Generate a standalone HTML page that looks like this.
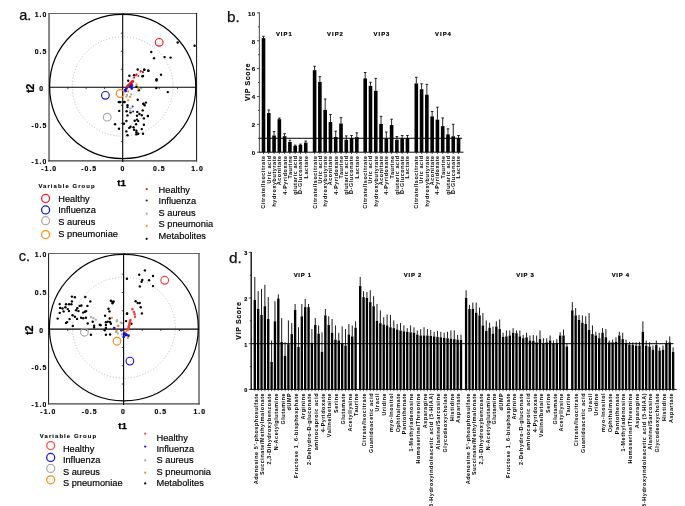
<!DOCTYPE html>
<html><head><meta charset="utf-8"><title>figure</title>
<style>html,body{margin:0;padding:0;background:#fff;}svg{display:block;transform:translateZ(0);will-change:transform;}</style></head>
<body>
<svg width="685" height="506" viewBox="0 0 685 506">
<rect width="685" height="506" fill="#fff"/>
<text x="19.2" y="19.9" font-family="Liberation Sans, sans-serif" font-size="14.6" fill="#111" stroke="#111" stroke-width="0.25">a.</text>
<line x1="49.05" y1="12.95" x2="49.05" y2="161.4" stroke="#6c6c6c" stroke-width="1.6"/>
<line x1="48.25" y1="13.5" x2="197.1" y2="13.5" stroke="#666" stroke-width="1.1"/>
<line x1="196.6" y1="12.95" x2="196.6" y2="161.4" stroke="#111" stroke-width="1.0"/>
<line x1="48.25" y1="160.8" x2="197.1" y2="160.8" stroke="#3a3a3a" stroke-width="1.2"/>
<ellipse cx="122.7" cy="86.5" rx="73.1" ry="72.1" fill="none" stroke="#000" stroke-width="1.2"/>
<ellipse cx="122.7" cy="86.5" rx="50.44" ry="49.75" fill="none" stroke="#adadad" stroke-width="0.85" stroke-dasharray="1 2"/>
<line x1="49.05" y1="87.3" x2="196.6" y2="87.3" stroke="#000" stroke-width="1.1"/>
<line x1="122.7" y1="13.5" x2="122.7" y2="162.0" stroke="#000" stroke-width="1.1"/>
<line x1="67.88" y1="87.3" x2="67.88" y2="89.2" stroke="#000" stroke-width="0.7"/>
<line x1="120.8" y1="33.23" x2="122.7" y2="33.23" stroke="#000" stroke-width="0.7"/>
<line x1="86.15" y1="87.3" x2="86.15" y2="89.2" stroke="#000" stroke-width="0.7"/>
<line x1="120.8" y1="51.25" x2="122.7" y2="51.25" stroke="#000" stroke-width="0.7"/>
<line x1="104.43" y1="87.3" x2="104.43" y2="89.2" stroke="#000" stroke-width="0.7"/>
<line x1="120.8" y1="69.28" x2="122.7" y2="69.28" stroke="#000" stroke-width="0.7"/>
<line x1="140.97" y1="87.3" x2="140.97" y2="89.2" stroke="#000" stroke-width="0.7"/>
<line x1="120.8" y1="105.32" x2="122.7" y2="105.32" stroke="#000" stroke-width="0.7"/>
<line x1="159.25" y1="87.3" x2="159.25" y2="89.2" stroke="#000" stroke-width="0.7"/>
<line x1="120.8" y1="123.35" x2="122.7" y2="123.35" stroke="#000" stroke-width="0.7"/>
<line x1="177.53" y1="87.3" x2="177.53" y2="89.2" stroke="#000" stroke-width="0.7"/>
<line x1="120.8" y1="141.38" x2="122.7" y2="141.38" stroke="#000" stroke-width="0.7"/>
<text x="47.3" y="17.3" text-anchor="end" font-family="Liberation Sans, sans-serif" font-size="6.9" font-weight="bold" letter-spacing="1.0" fill="#000" stroke="#000" stroke-width="0.15">1.0</text>
<text x="47.3" y="54.1" text-anchor="end" font-family="Liberation Sans, sans-serif" font-size="6.9" font-weight="bold" letter-spacing="1.0" fill="#000" stroke="#000" stroke-width="0.15">0.5</text>
<text x="44.0" y="90.9" text-anchor="end" font-family="Liberation Sans, sans-serif" font-size="6.9" font-weight="bold" letter-spacing="1.0" fill="#000" stroke="#000" stroke-width="0.15">0</text>
<text x="47.3" y="127.6" text-anchor="end" font-family="Liberation Sans, sans-serif" font-size="6.9" font-weight="bold" letter-spacing="1.0" fill="#000" stroke="#000" stroke-width="0.15">-0.5</text>
<text x="47.3" y="164.2" text-anchor="end" font-family="Liberation Sans, sans-serif" font-size="6.9" font-weight="bold" letter-spacing="1.0" fill="#000" stroke="#000" stroke-width="0.15">-1.0</text>
<text x="49.2" y="171.2" text-anchor="middle" font-family="Liberation Sans, sans-serif" font-size="6.9" font-weight="bold" letter-spacing="1.0" fill="#000" stroke="#000" stroke-width="0.15">-1.0</text>
<text x="89.2" y="171.2" text-anchor="middle" font-family="Liberation Sans, sans-serif" font-size="6.9" font-weight="bold" letter-spacing="1.0" fill="#000" stroke="#000" stroke-width="0.15">-0.5</text>
<text x="122.9" y="171.2" text-anchor="middle" font-family="Liberation Sans, sans-serif" font-size="6.9" font-weight="bold" letter-spacing="1.0" fill="#000" stroke="#000" stroke-width="0.15">0</text>
<text x="159.3" y="171.2" text-anchor="middle" font-family="Liberation Sans, sans-serif" font-size="6.9" font-weight="bold" letter-spacing="1.0" fill="#000" stroke="#000" stroke-width="0.15">0.5</text>
<text x="197.5" y="171.2" text-anchor="middle" font-family="Liberation Sans, sans-serif" font-size="6.9" font-weight="bold" letter-spacing="1.0" fill="#000" stroke="#000" stroke-width="0.15">1.0</text>
<text transform="translate(34,88.3) rotate(-90)" text-anchor="middle" font-family="Liberation Sans, sans-serif" font-size="10.2" font-weight="bold" fill="#000" stroke="#000" stroke-width="0.25">t2</text>
<text x="121.7" y="186" text-anchor="middle" font-family="Liberation Sans, sans-serif" font-size="9.8" font-weight="bold" fill="#000" stroke="#000" stroke-width="0.25">t1</text>
<circle cx="129.4" cy="75.8" r="1.2" fill="#000"/>
<circle cx="134.1" cy="75.2" r="1.2" fill="#000"/>
<circle cx="137.7" cy="69.5" r="1.2" fill="#000"/>
<circle cx="144.2" cy="69.7" r="1.2" fill="#000"/>
<circle cx="148.4" cy="70.7" r="1.2" fill="#000"/>
<circle cx="143.0" cy="76.0" r="1.2" fill="#000"/>
<circle cx="128.2" cy="80.8" r="1.2" fill="#000"/>
<circle cx="136.5" cy="86.7" r="1.2" fill="#000"/>
<circle cx="138.9" cy="90.2" r="1.2" fill="#000"/>
<circle cx="137.7" cy="99.7" r="1.2" fill="#000"/>
<circle cx="118.7" cy="102.1" r="1.2" fill="#000"/>
<circle cx="120.5" cy="102.1" r="1.2" fill="#000"/>
<circle cx="124.1" cy="102.1" r="1.2" fill="#000"/>
<circle cx="130.6" cy="84.3" r="1.2" fill="#000"/>
<circle cx="128.8" cy="85.5" r="1.2" fill="#000"/>
<circle cx="119.2" cy="102.0" r="1.2" fill="#000"/>
<circle cx="124.6" cy="102.0" r="1.2" fill="#000"/>
<circle cx="127.5" cy="105.3" r="1.2" fill="#000"/>
<circle cx="127.5" cy="107.1" r="1.2" fill="#000"/>
<circle cx="119.2" cy="110.9" r="1.2" fill="#000"/>
<circle cx="126.6" cy="111.3" r="1.2" fill="#000"/>
<circle cx="130.5" cy="112.5" r="1.2" fill="#000"/>
<circle cx="127.5" cy="115.4" r="1.2" fill="#000"/>
<circle cx="126.4" cy="121.0" r="1.2" fill="#000"/>
<circle cx="115.1" cy="124.3" r="1.2" fill="#000"/>
<circle cx="124.0" cy="123.7" r="1.2" fill="#000"/>
<circle cx="119.0" cy="128.7" r="1.2" fill="#000"/>
<circle cx="126.4" cy="131.4" r="1.2" fill="#000"/>
<circle cx="127.5" cy="135.3" r="1.2" fill="#000"/>
<circle cx="129.3" cy="127.9" r="1.2" fill="#000"/>
<circle cx="130.5" cy="126.7" r="1.2" fill="#000"/>
<circle cx="133.5" cy="127.3" r="1.2" fill="#000"/>
<circle cx="134.1" cy="129.7" r="1.2" fill="#000"/>
<circle cx="136.4" cy="130.8" r="1.2" fill="#000"/>
<circle cx="136.4" cy="132.6" r="1.2" fill="#000"/>
<circle cx="136.4" cy="134.4" r="1.2" fill="#000"/>
<circle cx="138.2" cy="133.8" r="1.2" fill="#000"/>
<circle cx="143.0" cy="133.8" r="1.2" fill="#000"/>
<circle cx="141.8" cy="129.1" r="1.2" fill="#000"/>
<circle cx="143.9" cy="124.7" r="1.2" fill="#000"/>
<circle cx="136.1" cy="124.3" r="1.2" fill="#000"/>
<circle cx="134.7" cy="120.8" r="1.2" fill="#000"/>
<circle cx="137.0" cy="119.6" r="1.2" fill="#000"/>
<circle cx="138.2" cy="121.1" r="1.2" fill="#000"/>
<circle cx="143.9" cy="118.4" r="1.2" fill="#000"/>
<circle cx="147.9" cy="116.0" r="1.2" fill="#000"/>
<circle cx="141.8" cy="115.2" r="1.2" fill="#000"/>
<circle cx="139.4" cy="114.0" r="1.2" fill="#000"/>
<circle cx="137.0" cy="115.7" r="1.2" fill="#000"/>
<circle cx="137.3" cy="111.9" r="1.2" fill="#000"/>
<circle cx="142.7" cy="110.4" r="1.2" fill="#000"/>
<circle cx="144.7" cy="105.3" r="1.2" fill="#000"/>
<circle cx="143.2" cy="103.6" r="1.2" fill="#000"/>
<circle cx="145.9" cy="102.6" r="1.2" fill="#000"/>
<circle cx="177.7" cy="42.5" r="1.2" fill="#000"/>
<circle cx="194.6" cy="45.7" r="1.2" fill="#000"/>
<circle cx="151.3" cy="52.0" r="1.2" fill="#000"/>
<circle cx="154.0" cy="58.2" r="1.2" fill="#000"/>
<circle cx="164.6" cy="57.1" r="1.2" fill="#000"/>
<circle cx="170.6" cy="57.6" r="1.2" fill="#000"/>
<circle cx="144.4" cy="69.8" r="1.2" fill="#000"/>
<circle cx="148.3" cy="70.8" r="1.2" fill="#000"/>
<circle cx="161.0" cy="74.8" r="1.2" fill="#000"/>
<circle cx="156.6" cy="79.3" r="1.2" fill="#000"/>
<circle cx="142.4" cy="76.3" r="1.2" fill="#000"/>
<circle cx="156.5" cy="80.5" r="1.2" fill="#000"/>
<circle cx="167.8" cy="92.1" r="1.2" fill="#000"/>
<circle cx="156.3" cy="88.0" r="1.2" fill="#000"/>
<circle cx="147.9" cy="116.1" r="1.2" fill="#000"/>
<circle cx="143.5" cy="104.0" r="1.2" fill="#000"/>
<circle cx="127.0" cy="95.0" r="1.15" fill="#a8a8a8"/>
<circle cx="131.2" cy="94.4" r="1.15" fill="#a8a8a8"/>
<circle cx="126.4" cy="96.8" r="1.15" fill="#a8a8a8"/>
<circle cx="130.5" cy="108.3" r="1.15" fill="#a8a8a8"/>
<circle cx="130.1" cy="110.9" r="1.15" fill="#a8a8a8"/>
<circle cx="136.5" cy="84.3" r="1.15" fill="#ff8a10"/>
<circle cx="138.3" cy="88.5" r="1.15" fill="#ff8a10"/>
<circle cx="128.2" cy="91.4" r="1.15" fill="#ff8a10"/>
<circle cx="130.0" cy="96.8" r="1.15" fill="#ff8a10"/>
<circle cx="128.2" cy="100.3" r="1.15" fill="#ff8a10"/>
<circle cx="127.2" cy="87.0" r="1.4" fill="#f01818"/>
<circle cx="127.7" cy="86.5" r="1.4" fill="#f01818"/>
<circle cx="128.2" cy="86.0" r="1.4" fill="#f01818"/>
<circle cx="128.7" cy="85.4" r="1.4" fill="#f01818"/>
<circle cx="129.2" cy="84.9" r="1.4" fill="#f01818"/>
<circle cx="129.7" cy="84.4" r="1.4" fill="#f01818"/>
<circle cx="130.2" cy="83.9" r="1.4" fill="#f01818"/>
<circle cx="130.7" cy="83.4" r="1.4" fill="#f01818"/>
<circle cx="131.2" cy="82.8" r="1.4" fill="#f01818"/>
<circle cx="131.7" cy="82.3" r="1.4" fill="#f01818"/>
<circle cx="132.2" cy="81.8" r="1.4" fill="#f01818"/>
<circle cx="132.7" cy="81.3" r="1.4" fill="#f01818"/>
<circle cx="134.1" cy="77.8" r="1.0" fill="#f01818"/>
<circle cx="136.5" cy="74.2" r="1.0" fill="#f01818"/>
<circle cx="138.3" cy="76.0" r="1.0" fill="#f01818"/>
<circle cx="140.7" cy="71.3" r="1.0" fill="#f01818"/>
<circle cx="143.0" cy="71.9" r="1.0" fill="#f01818"/>
<circle cx="135.9" cy="75.4" r="1.0" fill="#f01818"/>
<circle cx="140.6" cy="71.6" r="1.0" fill="#f01818"/>
<circle cx="143.0" cy="72.2" r="1.0" fill="#f01818"/>
<circle cx="125.2" cy="90.2" r="1.4" fill="#1414d8"/>
<circle cx="126.4" cy="88.5" r="1.4" fill="#1414d8"/>
<circle cx="130.6" cy="86.7" r="1.4" fill="#1414d8"/>
<circle cx="131.8" cy="85.5" r="1.4" fill="#1414d8"/>
<circle cx="131.8" cy="88.5" r="1.4" fill="#1414d8"/>
<circle cx="125.6" cy="91.1" r="1.4" fill="#1414d8"/>
<circle cx="132.6" cy="106.5" r="1.0" fill="#1414d8"/>
<circle cx="133.1" cy="111.5" r="1.0" fill="#1414d8"/>
<circle cx="159.2" cy="42.3" r="3.85" fill="none" stroke="#f01818" stroke-width="1.15"/>
<circle cx="105.4" cy="95.3" r="3.85" fill="none" stroke="#1414d8" stroke-width="1.15"/>
<circle cx="120.1" cy="93.5" r="3.85" fill="none" stroke="#ff8a10" stroke-width="1.15"/>
<circle cx="107.2" cy="117.2" r="3.85" fill="none" stroke="#a8a8a8" stroke-width="1.15"/>
<text x="38.4" y="188" font-family="Liberation Sans, sans-serif" font-size="5.9" font-weight="bold" letter-spacing="1.1" fill="#000" stroke="#000" stroke-width="0.12">Variable Group</text>
<circle cx="45.6" cy="198.4" r="4.0" fill="none" stroke="#f01818" stroke-width="1.25"/>
<circle cx="45.6" cy="209.9" r="4.0" fill="none" stroke="#1414d8" stroke-width="1.25"/>
<circle cx="45.6" cy="220.7" r="4.0" fill="none" stroke="#a8a8a8" stroke-width="1.25"/>
<circle cx="45.6" cy="234.5" r="4.0" fill="none" stroke="#ff8a10" stroke-width="1.25"/>
<text x="58.3" y="202.4" font-family="Liberation Sans, sans-serif" font-size="9.25" fill="#000" stroke="#000" stroke-width="0.18">Healthy</text>
<text x="58.3" y="213.1" font-family="Liberation Sans, sans-serif" font-size="9.25" fill="#000" stroke="#000" stroke-width="0.18">Influenza</text>
<text x="58.3" y="225.1" font-family="Liberation Sans, sans-serif" font-size="9.25" fill="#000" stroke="#000" stroke-width="0.18">S aureus</text>
<text x="58.3" y="236.6" font-family="Liberation Sans, sans-serif" font-size="9.25" fill="#000" stroke="#000" stroke-width="0.18">S pneumoniae</text>
<circle cx="146.7" cy="189.1" r="1.1" fill="#f01818"/>
<circle cx="146.7" cy="200.5" r="1.1" fill="#1414d8"/>
<circle cx="146.7" cy="213.7" r="1.1" fill="#a8a8a8"/>
<circle cx="146.7" cy="226.0" r="1.1" fill="#ff8a10"/>
<circle cx="146.7" cy="238.8" r="1.1" fill="#000"/>
<text x="158.6" y="193.3" font-family="Liberation Sans, sans-serif" font-size="9.25" fill="#000" stroke="#000" stroke-width="0.18">Healthy</text>
<text x="158.6" y="204.1" font-family="Liberation Sans, sans-serif" font-size="9.25" fill="#000" stroke="#000" stroke-width="0.18">Influenza</text>
<text x="158.6" y="215.7" font-family="Liberation Sans, sans-serif" font-size="9.25" fill="#000" stroke="#000" stroke-width="0.18">S aureus</text>
<text x="158.6" y="227.4" font-family="Liberation Sans, sans-serif" font-size="9.25" fill="#000" stroke="#000" stroke-width="0.18">S pneumonia</text>
<text x="158.6" y="238.5" font-family="Liberation Sans, sans-serif" font-size="9.25" fill="#000" stroke="#000" stroke-width="0.18">Metabolites</text>
<text x="18.8" y="261.3" font-family="Liberation Sans, sans-serif" font-size="14.6" fill="#111" stroke="#111" stroke-width="0.25">c.</text>
<line x1="48.6" y1="252.95" x2="48.6" y2="404.45" stroke="#111" stroke-width="1.0"/>
<line x1="48.1" y1="253.5" x2="199.7" y2="253.5" stroke="#666" stroke-width="1.1"/>
<line x1="199" y1="252.95" x2="199" y2="404.45" stroke="#5a5a5a" stroke-width="1.4"/>
<line x1="48.1" y1="403.8" x2="199.7" y2="403.8" stroke="#444" stroke-width="1.3"/>
<ellipse cx="123.85" cy="327.65" rx="74.45" ry="73.25" fill="none" stroke="#000" stroke-width="1.2"/>
<ellipse cx="123.85" cy="327.65" rx="51.37" ry="50.54" fill="none" stroke="#adadad" stroke-width="0.85" stroke-dasharray="1 2"/>
<line x1="48.6" y1="329.1" x2="199" y2="329.1" stroke="#000" stroke-width="1.1"/>
<line x1="123.6" y1="253.5" x2="123.6" y2="405.0" stroke="#000" stroke-width="1.1"/>
<line x1="67.76" y1="329.1" x2="67.76" y2="331.0" stroke="#000" stroke-width="0.7"/>
<line x1="121.69999999999999" y1="274.16" x2="123.6" y2="274.16" stroke="#000" stroke-width="0.7"/>
<line x1="86.38" y1="329.1" x2="86.38" y2="331.0" stroke="#000" stroke-width="0.7"/>
<line x1="121.69999999999999" y1="292.48" x2="123.6" y2="292.48" stroke="#000" stroke-width="0.7"/>
<line x1="104.99" y1="329.1" x2="104.99" y2="331.0" stroke="#000" stroke-width="0.7"/>
<line x1="121.69999999999999" y1="310.79" x2="123.6" y2="310.79" stroke="#000" stroke-width="0.7"/>
<line x1="142.21" y1="329.1" x2="142.21" y2="331.0" stroke="#000" stroke-width="0.7"/>
<line x1="121.69999999999999" y1="347.41" x2="123.6" y2="347.41" stroke="#000" stroke-width="0.7"/>
<line x1="160.82" y1="329.1" x2="160.82" y2="331.0" stroke="#000" stroke-width="0.7"/>
<line x1="121.69999999999999" y1="365.73" x2="123.6" y2="365.73" stroke="#000" stroke-width="0.7"/>
<line x1="179.44" y1="329.1" x2="179.44" y2="331.0" stroke="#000" stroke-width="0.7"/>
<line x1="121.69999999999999" y1="384.04" x2="123.6" y2="384.04" stroke="#000" stroke-width="0.7"/>
<text x="47.3" y="257.3" text-anchor="end" font-family="Liberation Sans, sans-serif" font-size="6.9" font-weight="bold" letter-spacing="1.0" fill="#000" stroke="#000" stroke-width="0.15">1.0</text>
<text x="47.3" y="294.8" text-anchor="end" font-family="Liberation Sans, sans-serif" font-size="6.9" font-weight="bold" letter-spacing="1.0" fill="#000" stroke="#000" stroke-width="0.15">0.5</text>
<text x="44.0" y="332.8" text-anchor="end" font-family="Liberation Sans, sans-serif" font-size="6.9" font-weight="bold" letter-spacing="1.0" fill="#000" stroke="#000" stroke-width="0.15">0</text>
<text x="47.3" y="369.9" text-anchor="end" font-family="Liberation Sans, sans-serif" font-size="6.9" font-weight="bold" letter-spacing="1.0" fill="#000" stroke="#000" stroke-width="0.15">-0.5</text>
<text x="47.3" y="407.1" text-anchor="end" font-family="Liberation Sans, sans-serif" font-size="6.9" font-weight="bold" letter-spacing="1.0" fill="#000" stroke="#000" stroke-width="0.15">-1.0</text>
<text x="48.3" y="414.2" text-anchor="middle" font-family="Liberation Sans, sans-serif" font-size="6.9" font-weight="bold" letter-spacing="1.0" fill="#000" stroke="#000" stroke-width="0.15">-1.0</text>
<text x="89.6" y="414.2" text-anchor="middle" font-family="Liberation Sans, sans-serif" font-size="6.9" font-weight="bold" letter-spacing="1.0" fill="#000" stroke="#000" stroke-width="0.15">-0.5</text>
<text x="123.5" y="414.2" text-anchor="middle" font-family="Liberation Sans, sans-serif" font-size="6.9" font-weight="bold" letter-spacing="1.0" fill="#000" stroke="#000" stroke-width="0.15">0</text>
<text x="160.8" y="414.2" text-anchor="middle" font-family="Liberation Sans, sans-serif" font-size="6.9" font-weight="bold" letter-spacing="1.0" fill="#000" stroke="#000" stroke-width="0.15">0.5</text>
<text x="199.8" y="414.2" text-anchor="middle" font-family="Liberation Sans, sans-serif" font-size="6.9" font-weight="bold" letter-spacing="1.0" fill="#000" stroke="#000" stroke-width="0.15">1.0</text>
<text transform="translate(32.8,330.1) rotate(-90)" text-anchor="middle" font-family="Liberation Sans, sans-serif" font-size="10.2" font-weight="bold" fill="#000" stroke="#000" stroke-width="0.25">t2</text>
<text x="122.6" y="429.3" text-anchor="middle" font-family="Liberation Sans, sans-serif" font-size="9.8" font-weight="bold" fill="#000" stroke="#000" stroke-width="0.25">t1</text>
<circle cx="71.9" cy="296.6" r="1.2" fill="#000"/>
<circle cx="74.9" cy="297.2" r="1.2" fill="#000"/>
<circle cx="85.3" cy="297.0" r="1.2" fill="#000"/>
<circle cx="90.3" cy="301.4" r="1.2" fill="#000"/>
<circle cx="71.9" cy="301.4" r="1.2" fill="#000"/>
<circle cx="71.4" cy="304.3" r="1.2" fill="#000"/>
<circle cx="69.0" cy="304.3" r="1.2" fill="#000"/>
<circle cx="66.0" cy="304.3" r="1.2" fill="#000"/>
<circle cx="59.7" cy="304.1" r="1.2" fill="#000"/>
<circle cx="60.1" cy="307.9" r="1.2" fill="#000"/>
<circle cx="62.5" cy="308.5" r="1.2" fill="#000"/>
<circle cx="65.4" cy="307.3" r="1.2" fill="#000"/>
<circle cx="67.8" cy="309.1" r="1.2" fill="#000"/>
<circle cx="63.6" cy="311.4" r="1.2" fill="#000"/>
<circle cx="69.0" cy="311.1" r="1.2" fill="#000"/>
<circle cx="59.7" cy="312.9" r="1.2" fill="#000"/>
<circle cx="77.3" cy="308.2" r="1.2" fill="#000"/>
<circle cx="79.7" cy="305.9" r="1.2" fill="#000"/>
<circle cx="81.4" cy="305.5" r="1.2" fill="#000"/>
<circle cx="87.4" cy="305.9" r="1.2" fill="#000"/>
<circle cx="76.1" cy="310.2" r="1.2" fill="#000"/>
<circle cx="78.5" cy="311.1" r="1.2" fill="#000"/>
<circle cx="83.2" cy="312.6" r="1.2" fill="#000"/>
<circle cx="85.0" cy="311.8" r="1.2" fill="#000"/>
<circle cx="86.2" cy="311.1" r="1.2" fill="#000"/>
<circle cx="72.5" cy="315.3" r="1.2" fill="#000"/>
<circle cx="74.9" cy="316.8" r="1.2" fill="#000"/>
<circle cx="77.0" cy="318.9" r="1.2" fill="#000"/>
<circle cx="81.1" cy="317.7" r="1.2" fill="#000"/>
<circle cx="83.2" cy="318.2" r="1.2" fill="#000"/>
<circle cx="85.9" cy="317.7" r="1.2" fill="#000"/>
<circle cx="57.7" cy="318.6" r="1.2" fill="#000"/>
<circle cx="69.6" cy="319.1" r="1.2" fill="#000"/>
<circle cx="66.0" cy="322.9" r="1.2" fill="#000"/>
<circle cx="67.2" cy="322.1" r="1.2" fill="#000"/>
<circle cx="87.7" cy="323.5" r="1.2" fill="#000"/>
<circle cx="92.7" cy="321.8" r="1.2" fill="#000"/>
<circle cx="72.8" cy="325.9" r="1.2" fill="#000"/>
<circle cx="94.1" cy="325.7" r="1.2" fill="#000"/>
<circle cx="94.1" cy="327.4" r="1.2" fill="#000"/>
<circle cx="99.8" cy="324.8" r="1.2" fill="#000"/>
<circle cx="90.9" cy="334.8" r="1.2" fill="#000"/>
<circle cx="110.9" cy="300.7" r="1.2" fill="#000"/>
<circle cx="112.5" cy="301.9" r="1.2" fill="#000"/>
<circle cx="113.6" cy="301.5" r="1.2" fill="#000"/>
<circle cx="112.5" cy="303.3" r="1.2" fill="#000"/>
<circle cx="108.5" cy="308.7" r="1.2" fill="#000"/>
<circle cx="109.5" cy="311.4" r="1.2" fill="#000"/>
<circle cx="105.1" cy="315.7" r="1.2" fill="#000"/>
<circle cx="109.7" cy="318.5" r="1.2" fill="#000"/>
<circle cx="105.9" cy="322.3" r="1.2" fill="#000"/>
<circle cx="107.7" cy="321.8" r="1.2" fill="#000"/>
<circle cx="110.1" cy="322.0" r="1.2" fill="#000"/>
<circle cx="110.9" cy="323.8" r="1.2" fill="#000"/>
<circle cx="105.9" cy="325.0" r="1.2" fill="#000"/>
<circle cx="100.6" cy="325.2" r="1.2" fill="#000"/>
<circle cx="105.9" cy="328.0" r="1.2" fill="#000"/>
<circle cx="104.7" cy="330.3" r="1.2" fill="#000"/>
<circle cx="105.9" cy="334.8" r="1.2" fill="#000"/>
<circle cx="110.1" cy="334.5" r="1.2" fill="#000"/>
<circle cx="127.0" cy="313.7" r="1.2" fill="#000"/>
<circle cx="126.1" cy="321.1" r="1.2" fill="#000"/>
<circle cx="135.6" cy="301.3" r="1.2" fill="#000"/>
<circle cx="137.7" cy="303.0" r="1.2" fill="#000"/>
<circle cx="139.7" cy="303.0" r="1.2" fill="#000"/>
<circle cx="140.7" cy="307.2" r="1.2" fill="#000"/>
<circle cx="141.9" cy="313.4" r="1.2" fill="#000"/>
<circle cx="131.4" cy="323.8" r="1.2" fill="#000"/>
<circle cx="144.9" cy="270.4" r="1.2" fill="#000"/>
<circle cx="139.2" cy="274.8" r="1.2" fill="#000"/>
<circle cx="153.0" cy="276.0" r="1.2" fill="#000"/>
<circle cx="126.9" cy="278.7" r="1.2" fill="#000"/>
<circle cx="142.3" cy="279.9" r="1.2" fill="#000"/>
<circle cx="141.6" cy="281.7" r="1.2" fill="#000"/>
<circle cx="149.1" cy="280.3" r="1.2" fill="#000"/>
<circle cx="139.8" cy="286.4" r="1.2" fill="#000"/>
<circle cx="153.0" cy="286.1" r="1.2" fill="#000"/>
<circle cx="127.1" cy="313.5" r="1.2" fill="#000"/>
<circle cx="90.9" cy="317.0" r="1.15" fill="#a8a8a8"/>
<circle cx="93.3" cy="318.2" r="1.15" fill="#a8a8a8"/>
<circle cx="95.7" cy="319.7" r="1.15" fill="#a8a8a8"/>
<circle cx="116.6" cy="321.4" r="1.15" fill="#a8a8a8"/>
<circle cx="117.0" cy="320.2" r="1.15" fill="#a8a8a8"/>
<circle cx="120.8" cy="322.6" r="1.15" fill="#a8a8a8"/>
<circle cx="121.9" cy="323.2" r="1.15" fill="#a8a8a8"/>
<circle cx="117.8" cy="325.6" r="1.15" fill="#a8a8a8"/>
<circle cx="116.0" cy="332.1" r="1.15" fill="#a8a8a8"/>
<circle cx="117.8" cy="333.3" r="1.15" fill="#a8a8a8"/>
<circle cx="121.9" cy="334.5" r="1.15" fill="#a8a8a8"/>
<circle cx="111.9" cy="317.9" r="1.15" fill="#ff8a10"/>
<circle cx="118.4" cy="326.2" r="1.15" fill="#ff8a10"/>
<circle cx="116.6" cy="330.9" r="1.15" fill="#ff8a10"/>
<circle cx="126.7" cy="330.9" r="1.15" fill="#ff8a10"/>
<circle cx="127.9" cy="338.0" r="1.15" fill="#ff8a10"/>
<circle cx="124.3" cy="331.5" r="1.15" fill="#ff8a10"/>
<circle cx="132.3" cy="309.2" r="1.25" fill="#f43c3c"/>
<circle cx="133.8" cy="311.9" r="1.25" fill="#f43c3c"/>
<circle cx="134.6" cy="314.3" r="1.25" fill="#f43c3c"/>
<circle cx="135.0" cy="316.7" r="1.25" fill="#f43c3c"/>
<circle cx="130.4" cy="319.9" r="1.25" fill="#f43c3c"/>
<circle cx="130.1" cy="321.0" r="1.25" fill="#f43c3c"/>
<circle cx="129.9" cy="322.0" r="1.25" fill="#f43c3c"/>
<circle cx="129.7" cy="323.1" r="1.25" fill="#f43c3c"/>
<circle cx="129.4" cy="324.2" r="1.25" fill="#f43c3c"/>
<circle cx="129.2" cy="325.2" r="1.25" fill="#f43c3c"/>
<circle cx="128.9" cy="326.3" r="1.25" fill="#f43c3c"/>
<circle cx="128.7" cy="327.4" r="1.25" fill="#f43c3c"/>
<circle cx="128.5" cy="328.4" r="1.25" fill="#f43c3c"/>
<circle cx="128.2" cy="329.5" r="1.25" fill="#f43c3c"/>
<circle cx="114.2" cy="328.0" r="1.35" fill="#1414d8"/>
<circle cx="121.4" cy="330.3" r="1.35" fill="#1414d8"/>
<circle cx="124.3" cy="333.3" r="1.35" fill="#1414d8"/>
<circle cx="125.5" cy="335.1" r="1.35" fill="#1414d8"/>
<circle cx="128.5" cy="335.7" r="1.35" fill="#1414d8"/>
<circle cx="123.7" cy="336.9" r="1.35" fill="#1414d8"/>
<circle cx="125.5" cy="333.9" r="1.35" fill="#1414d8"/>
<circle cx="126.7" cy="334.8" r="1.35" fill="#1414d8"/>
<circle cx="164.7" cy="280.3" r="3.85" fill="none" stroke="#f43c3c" stroke-width="1.15"/>
<circle cx="129.9" cy="361.1" r="3.85" fill="none" stroke="#1414d8" stroke-width="1.15"/>
<circle cx="117.0" cy="341.2" r="3.85" fill="none" stroke="#ff8a10" stroke-width="1.15"/>
<circle cx="84.4" cy="332.2" r="3.85" fill="none" stroke="#a8a8a8" stroke-width="1.15"/>
<text x="39.8" y="438" font-family="Liberation Sans, sans-serif" font-size="5.9" font-weight="bold" letter-spacing="1.1" fill="#000" stroke="#000" stroke-width="0.12">Variable Group</text>
<circle cx="50.7" cy="445.6" r="4.0" fill="none" stroke="#f84848" stroke-width="1.25"/>
<circle cx="50.7" cy="457.4" r="4.0" fill="none" stroke="#1414d8" stroke-width="1.25"/>
<circle cx="50.7" cy="468.4" r="4.0" fill="none" stroke="#a8a8a8" stroke-width="1.25"/>
<circle cx="50.7" cy="479.8" r="4.0" fill="none" stroke="#ff8a10" stroke-width="1.25"/>
<text x="62.9" y="451.6" font-family="Liberation Sans, sans-serif" font-size="9.25" fill="#000" stroke="#000" stroke-width="0.18">Healthy</text>
<text x="62.9" y="462.9" font-family="Liberation Sans, sans-serif" font-size="9.25" fill="#000" stroke="#000" stroke-width="0.18">Influenza</text>
<text x="62.9" y="474.6" font-family="Liberation Sans, sans-serif" font-size="9.25" fill="#000" stroke="#000" stroke-width="0.18">S aureus</text>
<text x="62.9" y="485.9" font-family="Liberation Sans, sans-serif" font-size="9.25" fill="#000" stroke="#000" stroke-width="0.18">S pneumoniae</text>
<circle cx="145.2" cy="433.7" r="1.1" fill="#f84848"/>
<circle cx="145.2" cy="446.6" r="1.1" fill="#1414d8"/>
<circle cx="145.2" cy="460.4" r="1.1" fill="#a8a8a8"/>
<circle cx="145.2" cy="472.7" r="1.1" fill="#ff8a10"/>
<circle cx="145.2" cy="483.4" r="1.1" fill="#000"/>
<text x="156.5" y="440.7" font-family="Liberation Sans, sans-serif" font-size="9.25" fill="#000" stroke="#000" stroke-width="0.18">Healthy</text>
<text x="156.5" y="451.8" font-family="Liberation Sans, sans-serif" font-size="9.25" fill="#000" stroke="#000" stroke-width="0.18">Influenza</text>
<text x="156.5" y="463.1" font-family="Liberation Sans, sans-serif" font-size="9.25" fill="#000" stroke="#000" stroke-width="0.18">S aureus</text>
<text x="156.5" y="474.5" font-family="Liberation Sans, sans-serif" font-size="9.25" fill="#000" stroke="#000" stroke-width="0.18">S pneumonia</text>
<text x="156.5" y="485.5" font-family="Liberation Sans, sans-serif" font-size="9.25" fill="#000" stroke="#000" stroke-width="0.18">Metabolites</text>
<text x="227" y="21.9" font-family="Liberation Sans, sans-serif" font-size="15.4" fill="#111" stroke="#111" stroke-width="0.25">b.</text>
<rect x="261.70" y="38.11" width="3.6" height="114.09" fill="#000"/>
<line x1="263.50" y1="38.11" x2="263.50" y2="36.30" stroke="#000" stroke-width="0.85"/>
<line x1="262.20" y1="36.30" x2="264.80" y2="36.30" stroke="#000" stroke-width="0.85"/>
<line x1="263.50" y1="152.2" x2="263.50" y2="154.0" stroke="#000" stroke-width="0.7"/>
<text transform="translate(265.40,155.3) rotate(-90)" text-anchor="end" font-family="Liberation Sans, sans-serif" font-size="5.4" font-weight="bold" letter-spacing="0.6" fill="#000">Citrate/Isocitrate</text>
<rect x="266.98" y="113.06" width="3.6" height="39.14" fill="#000"/>
<line x1="268.78" y1="113.06" x2="268.78" y2="109.99" stroke="#000" stroke-width="0.85"/>
<line x1="267.48" y1="109.99" x2="270.08" y2="109.99" stroke="#000" stroke-width="0.85"/>
<line x1="268.78" y1="152.2" x2="268.78" y2="154.0" stroke="#000" stroke-width="0.7"/>
<text transform="translate(270.68,155.3) rotate(-90)" text-anchor="end" font-family="Liberation Sans, sans-serif" font-size="5.4" font-weight="bold" letter-spacing="0.6" fill="#000">Uric acid</text>
<rect x="272.26" y="135.48" width="3.6" height="16.72" fill="#000"/>
<line x1="274.06" y1="135.48" x2="274.06" y2="131.58" stroke="#000" stroke-width="0.85"/>
<line x1="272.76" y1="131.58" x2="275.36" y2="131.58" stroke="#000" stroke-width="0.85"/>
<line x1="274.06" y1="152.2" x2="274.06" y2="154.0" stroke="#000" stroke-width="0.7"/>
<text transform="translate(275.96,155.3) rotate(-90)" text-anchor="end" font-family="Liberation Sans, sans-serif" font-size="5.4" font-weight="bold" letter-spacing="0.6" fill="#000">hydroxybutyrate</text>
<rect x="277.54" y="119.19" width="3.6" height="33.01" fill="#000"/>
<line x1="279.34" y1="119.19" x2="279.34" y2="118.07" stroke="#000" stroke-width="0.85"/>
<line x1="278.04" y1="118.07" x2="280.64" y2="118.07" stroke="#000" stroke-width="0.85"/>
<line x1="279.34" y1="152.2" x2="279.34" y2="154.0" stroke="#000" stroke-width="0.7"/>
<text transform="translate(281.24,155.3) rotate(-90)" text-anchor="end" font-family="Liberation Sans, sans-serif" font-size="5.4" font-weight="bold" letter-spacing="0.6" fill="#000">Aconitate</text>
<rect x="282.82" y="136.18" width="3.6" height="16.02" fill="#000"/>
<line x1="284.62" y1="136.18" x2="284.62" y2="133.67" stroke="#000" stroke-width="0.85"/>
<line x1="283.32" y1="133.67" x2="285.92" y2="133.67" stroke="#000" stroke-width="0.85"/>
<line x1="284.62" y1="152.2" x2="284.62" y2="154.0" stroke="#000" stroke-width="0.7"/>
<text transform="translate(286.52,155.3) rotate(-90)" text-anchor="end" font-family="Liberation Sans, sans-serif" font-size="5.4" font-weight="bold" letter-spacing="0.6" fill="#000">4-Pyridoxate</text>
<rect x="288.10" y="142.03" width="3.6" height="10.17" fill="#000"/>
<line x1="289.90" y1="142.03" x2="289.90" y2="140.22" stroke="#000" stroke-width="0.85"/>
<line x1="288.60" y1="140.22" x2="291.20" y2="140.22" stroke="#000" stroke-width="0.85"/>
<line x1="289.90" y1="152.2" x2="289.90" y2="154.0" stroke="#000" stroke-width="0.7"/>
<text transform="translate(291.80,155.3) rotate(-90)" text-anchor="end" font-family="Liberation Sans, sans-serif" font-size="5.4" font-weight="bold" letter-spacing="0.6" fill="#000">Taurine</text>
<rect x="293.38" y="145.93" width="3.6" height="6.27" fill="#000"/>
<line x1="295.18" y1="145.93" x2="295.18" y2="145.10" stroke="#000" stroke-width="0.85"/>
<line x1="293.88" y1="145.10" x2="296.48" y2="145.10" stroke="#000" stroke-width="0.85"/>
<line x1="295.18" y1="152.2" x2="295.18" y2="154.0" stroke="#000" stroke-width="0.7"/>
<text transform="translate(297.08,155.3) rotate(-90)" text-anchor="end" font-family="Liberation Sans, sans-serif" font-size="5.4" font-weight="bold" letter-spacing="0.6" fill="#000">glutaric acid</text>
<rect x="298.66" y="144.82" width="3.6" height="7.38" fill="#000"/>
<line x1="300.46" y1="144.82" x2="300.46" y2="144.12" stroke="#000" stroke-width="0.85"/>
<line x1="299.16" y1="144.12" x2="301.76" y2="144.12" stroke="#000" stroke-width="0.85"/>
<line x1="300.46" y1="152.2" x2="300.46" y2="154.0" stroke="#000" stroke-width="0.7"/>
<text transform="translate(302.36,155.3) rotate(-90)" text-anchor="end" font-family="Liberation Sans, sans-serif" font-size="5.4" font-weight="bold" letter-spacing="0.6" fill="#000">D-Gluconate</text>
<rect x="303.94" y="142.59" width="3.6" height="9.61" fill="#000"/>
<line x1="305.74" y1="142.59" x2="305.74" y2="141.06" stroke="#000" stroke-width="0.85"/>
<line x1="304.44" y1="141.06" x2="307.04" y2="141.06" stroke="#000" stroke-width="0.85"/>
<line x1="305.74" y1="152.2" x2="305.74" y2="154.0" stroke="#000" stroke-width="0.7"/>
<text transform="translate(307.64,155.3) rotate(-90)" text-anchor="end" font-family="Liberation Sans, sans-serif" font-size="5.4" font-weight="bold" letter-spacing="0.6" fill="#000">Lactate</text>
<rect x="312.80" y="70.15" width="3.6" height="82.05" fill="#000"/>
<line x1="314.60" y1="70.15" x2="314.60" y2="66.25" stroke="#000" stroke-width="0.85"/>
<line x1="313.30" y1="66.25" x2="315.90" y2="66.25" stroke="#000" stroke-width="0.85"/>
<line x1="314.60" y1="152.2" x2="314.60" y2="154.0" stroke="#000" stroke-width="0.7"/>
<text transform="translate(316.50,155.3) rotate(-90)" text-anchor="end" font-family="Liberation Sans, sans-serif" font-size="5.4" font-weight="bold" letter-spacing="0.6" fill="#000">Citrate/Isocitrate</text>
<rect x="318.08" y="81.99" width="3.6" height="70.21" fill="#000"/>
<line x1="319.88" y1="81.99" x2="319.88" y2="76.70" stroke="#000" stroke-width="0.85"/>
<line x1="318.58" y1="76.70" x2="321.18" y2="76.70" stroke="#000" stroke-width="0.85"/>
<line x1="319.88" y1="152.2" x2="319.88" y2="154.0" stroke="#000" stroke-width="0.7"/>
<text transform="translate(321.78,155.3) rotate(-90)" text-anchor="end" font-family="Liberation Sans, sans-serif" font-size="5.4" font-weight="bold" letter-spacing="0.6" fill="#000">Uric acid</text>
<rect x="323.36" y="109.85" width="3.6" height="42.35" fill="#000"/>
<line x1="325.16" y1="109.85" x2="325.16" y2="98.99" stroke="#000" stroke-width="0.85"/>
<line x1="323.86" y1="98.99" x2="326.46" y2="98.99" stroke="#000" stroke-width="0.85"/>
<line x1="325.16" y1="152.2" x2="325.16" y2="154.0" stroke="#000" stroke-width="0.7"/>
<text transform="translate(327.06,155.3) rotate(-90)" text-anchor="end" font-family="Liberation Sans, sans-serif" font-size="5.4" font-weight="bold" letter-spacing="0.6" fill="#000">hydroxybutyrate</text>
<rect x="328.64" y="121.97" width="3.6" height="30.23" fill="#000"/>
<line x1="330.44" y1="121.97" x2="330.44" y2="114.45" stroke="#000" stroke-width="0.85"/>
<line x1="329.14" y1="114.45" x2="331.74" y2="114.45" stroke="#000" stroke-width="0.85"/>
<line x1="330.44" y1="152.2" x2="330.44" y2="154.0" stroke="#000" stroke-width="0.7"/>
<text transform="translate(332.34,155.3) rotate(-90)" text-anchor="end" font-family="Liberation Sans, sans-serif" font-size="5.4" font-weight="bold" letter-spacing="0.6" fill="#000">Aconitate</text>
<rect x="333.92" y="137.02" width="3.6" height="15.18" fill="#000"/>
<line x1="335.72" y1="137.02" x2="335.72" y2="131.17" stroke="#000" stroke-width="0.85"/>
<line x1="334.42" y1="131.17" x2="337.02" y2="131.17" stroke="#000" stroke-width="0.85"/>
<line x1="335.72" y1="152.2" x2="335.72" y2="154.0" stroke="#000" stroke-width="0.7"/>
<text transform="translate(337.62,155.3) rotate(-90)" text-anchor="end" font-family="Liberation Sans, sans-serif" font-size="5.4" font-weight="bold" letter-spacing="0.6" fill="#000">4-Pyridoxate</text>
<rect x="339.20" y="123.50" width="3.6" height="28.70" fill="#000"/>
<line x1="341.00" y1="123.50" x2="341.00" y2="117.65" stroke="#000" stroke-width="0.85"/>
<line x1="339.70" y1="117.65" x2="342.30" y2="117.65" stroke="#000" stroke-width="0.85"/>
<line x1="341.00" y1="152.2" x2="341.00" y2="154.0" stroke="#000" stroke-width="0.7"/>
<text transform="translate(342.90,155.3) rotate(-90)" text-anchor="end" font-family="Liberation Sans, sans-serif" font-size="5.4" font-weight="bold" letter-spacing="0.6" fill="#000">Taurine</text>
<rect x="344.48" y="139.80" width="3.6" height="12.40" fill="#000"/>
<line x1="346.28" y1="139.80" x2="346.28" y2="135.90" stroke="#000" stroke-width="0.85"/>
<line x1="344.98" y1="135.90" x2="347.58" y2="135.90" stroke="#000" stroke-width="0.85"/>
<line x1="346.28" y1="152.2" x2="346.28" y2="154.0" stroke="#000" stroke-width="0.7"/>
<text transform="translate(348.18,155.3) rotate(-90)" text-anchor="end" font-family="Liberation Sans, sans-serif" font-size="5.4" font-weight="bold" letter-spacing="0.6" fill="#000">glutaric acid</text>
<rect x="349.76" y="138.27" width="3.6" height="13.93" fill="#000"/>
<line x1="351.56" y1="138.27" x2="351.56" y2="135.48" stroke="#000" stroke-width="0.85"/>
<line x1="350.26" y1="135.48" x2="352.86" y2="135.48" stroke="#000" stroke-width="0.85"/>
<line x1="351.56" y1="152.2" x2="351.56" y2="154.0" stroke="#000" stroke-width="0.7"/>
<text transform="translate(353.46,155.3) rotate(-90)" text-anchor="end" font-family="Liberation Sans, sans-serif" font-size="5.4" font-weight="bold" letter-spacing="0.6" fill="#000">D-Gluconate</text>
<rect x="355.04" y="137.16" width="3.6" height="15.04" fill="#000"/>
<line x1="356.84" y1="137.16" x2="356.84" y2="132.84" stroke="#000" stroke-width="0.85"/>
<line x1="355.54" y1="132.84" x2="358.14" y2="132.84" stroke="#000" stroke-width="0.85"/>
<line x1="356.84" y1="152.2" x2="356.84" y2="154.0" stroke="#000" stroke-width="0.7"/>
<text transform="translate(358.74,155.3) rotate(-90)" text-anchor="end" font-family="Liberation Sans, sans-serif" font-size="5.4" font-weight="bold" letter-spacing="0.6" fill="#000">Lactate</text>
<rect x="363.40" y="78.37" width="3.6" height="73.83" fill="#000"/>
<line x1="365.20" y1="78.37" x2="365.20" y2="72.52" stroke="#000" stroke-width="0.85"/>
<line x1="363.90" y1="72.52" x2="366.50" y2="72.52" stroke="#000" stroke-width="0.85"/>
<line x1="365.20" y1="152.2" x2="365.20" y2="154.0" stroke="#000" stroke-width="0.7"/>
<text transform="translate(367.10,155.3) rotate(-90)" text-anchor="end" font-family="Liberation Sans, sans-serif" font-size="5.4" font-weight="bold" letter-spacing="0.6" fill="#000">Citrate/Isocitrate</text>
<rect x="368.68" y="85.89" width="3.6" height="66.31" fill="#000"/>
<line x1="370.48" y1="85.89" x2="370.48" y2="82.27" stroke="#000" stroke-width="0.85"/>
<line x1="369.18" y1="82.27" x2="371.78" y2="82.27" stroke="#000" stroke-width="0.85"/>
<line x1="370.48" y1="152.2" x2="370.48" y2="154.0" stroke="#000" stroke-width="0.7"/>
<text transform="translate(372.38,155.3) rotate(-90)" text-anchor="end" font-family="Liberation Sans, sans-serif" font-size="5.4" font-weight="bold" letter-spacing="0.6" fill="#000">Uric acid</text>
<rect x="373.96" y="90.77" width="3.6" height="61.43" fill="#000"/>
<line x1="375.76" y1="90.77" x2="375.76" y2="78.37" stroke="#000" stroke-width="0.85"/>
<line x1="374.46" y1="78.37" x2="377.06" y2="78.37" stroke="#000" stroke-width="0.85"/>
<line x1="375.76" y1="152.2" x2="375.76" y2="154.0" stroke="#000" stroke-width="0.7"/>
<text transform="translate(377.66,155.3) rotate(-90)" text-anchor="end" font-family="Liberation Sans, sans-serif" font-size="5.4" font-weight="bold" letter-spacing="0.6" fill="#000">hydroxybutyrate</text>
<rect x="379.24" y="123.92" width="3.6" height="28.28" fill="#000"/>
<line x1="381.04" y1="123.92" x2="381.04" y2="116.40" stroke="#000" stroke-width="0.85"/>
<line x1="379.74" y1="116.40" x2="382.34" y2="116.40" stroke="#000" stroke-width="0.85"/>
<line x1="381.04" y1="152.2" x2="381.04" y2="154.0" stroke="#000" stroke-width="0.7"/>
<text transform="translate(382.94,155.3) rotate(-90)" text-anchor="end" font-family="Liberation Sans, sans-serif" font-size="5.4" font-weight="bold" letter-spacing="0.6" fill="#000">Aconitate</text>
<rect x="384.52" y="138.55" width="3.6" height="13.65" fill="#000"/>
<line x1="386.32" y1="138.55" x2="386.32" y2="132.00" stroke="#000" stroke-width="0.85"/>
<line x1="385.02" y1="132.00" x2="387.62" y2="132.00" stroke="#000" stroke-width="0.85"/>
<line x1="386.32" y1="152.2" x2="386.32" y2="154.0" stroke="#000" stroke-width="0.7"/>
<text transform="translate(388.22,155.3) rotate(-90)" text-anchor="end" font-family="Liberation Sans, sans-serif" font-size="5.4" font-weight="bold" letter-spacing="0.6" fill="#000">4-Pyridoxate</text>
<rect x="389.80" y="125.04" width="3.6" height="27.16" fill="#000"/>
<line x1="391.60" y1="125.04" x2="391.60" y2="119.19" stroke="#000" stroke-width="0.85"/>
<line x1="390.30" y1="119.19" x2="392.90" y2="119.19" stroke="#000" stroke-width="0.85"/>
<line x1="391.60" y1="152.2" x2="391.60" y2="154.0" stroke="#000" stroke-width="0.7"/>
<text transform="translate(393.50,155.3) rotate(-90)" text-anchor="end" font-family="Liberation Sans, sans-serif" font-size="5.4" font-weight="bold" letter-spacing="0.6" fill="#000">Taurine</text>
<rect x="395.08" y="139.80" width="3.6" height="12.40" fill="#000"/>
<line x1="396.88" y1="139.80" x2="396.88" y2="136.60" stroke="#000" stroke-width="0.85"/>
<line x1="395.58" y1="136.60" x2="398.18" y2="136.60" stroke="#000" stroke-width="0.85"/>
<line x1="396.88" y1="152.2" x2="396.88" y2="154.0" stroke="#000" stroke-width="0.7"/>
<text transform="translate(398.78,155.3) rotate(-90)" text-anchor="end" font-family="Liberation Sans, sans-serif" font-size="5.4" font-weight="bold" letter-spacing="0.6" fill="#000">glutaric acid</text>
<rect x="400.36" y="138.55" width="3.6" height="13.65" fill="#000"/>
<line x1="402.16" y1="138.55" x2="402.16" y2="135.48" stroke="#000" stroke-width="0.85"/>
<line x1="400.86" y1="135.48" x2="403.46" y2="135.48" stroke="#000" stroke-width="0.85"/>
<line x1="402.16" y1="152.2" x2="402.16" y2="154.0" stroke="#000" stroke-width="0.7"/>
<text transform="translate(404.06,155.3) rotate(-90)" text-anchor="end" font-family="Liberation Sans, sans-serif" font-size="5.4" font-weight="bold" letter-spacing="0.6" fill="#000">D-Gluconate</text>
<rect x="405.64" y="138.13" width="3.6" height="14.07" fill="#000"/>
<line x1="407.44" y1="138.13" x2="407.44" y2="135.48" stroke="#000" stroke-width="0.85"/>
<line x1="406.14" y1="135.48" x2="408.74" y2="135.48" stroke="#000" stroke-width="0.85"/>
<line x1="407.44" y1="152.2" x2="407.44" y2="154.0" stroke="#000" stroke-width="0.7"/>
<text transform="translate(409.34,155.3) rotate(-90)" text-anchor="end" font-family="Liberation Sans, sans-serif" font-size="5.4" font-weight="bold" letter-spacing="0.6" fill="#000">Lactate</text>
<rect x="414.50" y="83.39" width="3.6" height="68.81" fill="#000"/>
<line x1="416.30" y1="83.39" x2="416.30" y2="77.26" stroke="#000" stroke-width="0.85"/>
<line x1="415.00" y1="77.26" x2="417.60" y2="77.26" stroke="#000" stroke-width="0.85"/>
<line x1="416.30" y1="152.2" x2="416.30" y2="154.0" stroke="#000" stroke-width="0.7"/>
<text transform="translate(418.20,155.3) rotate(-90)" text-anchor="end" font-family="Liberation Sans, sans-serif" font-size="5.4" font-weight="bold" letter-spacing="0.6" fill="#000">Citrate/Isocitrate</text>
<rect x="419.78" y="89.24" width="3.6" height="62.96" fill="#000"/>
<line x1="421.58" y1="89.24" x2="421.58" y2="83.80" stroke="#000" stroke-width="0.85"/>
<line x1="420.28" y1="83.80" x2="422.88" y2="83.80" stroke="#000" stroke-width="0.85"/>
<line x1="421.58" y1="152.2" x2="421.58" y2="154.0" stroke="#000" stroke-width="0.7"/>
<text transform="translate(423.48,155.3) rotate(-90)" text-anchor="end" font-family="Liberation Sans, sans-serif" font-size="5.4" font-weight="bold" letter-spacing="0.6" fill="#000">Uric acid</text>
<rect x="425.06" y="94.67" width="3.6" height="57.53" fill="#000"/>
<line x1="426.86" y1="94.67" x2="426.86" y2="84.36" stroke="#000" stroke-width="0.85"/>
<line x1="425.56" y1="84.36" x2="428.16" y2="84.36" stroke="#000" stroke-width="0.85"/>
<line x1="426.86" y1="152.2" x2="426.86" y2="154.0" stroke="#000" stroke-width="0.7"/>
<text transform="translate(428.76,155.3) rotate(-90)" text-anchor="end" font-family="Liberation Sans, sans-serif" font-size="5.4" font-weight="bold" letter-spacing="0.6" fill="#000">hydroxybutyrate</text>
<rect x="430.34" y="116.40" width="3.6" height="35.80" fill="#000"/>
<line x1="432.14" y1="116.40" x2="432.14" y2="111.52" stroke="#000" stroke-width="0.85"/>
<line x1="430.84" y1="111.52" x2="433.44" y2="111.52" stroke="#000" stroke-width="0.85"/>
<line x1="432.14" y1="152.2" x2="432.14" y2="154.0" stroke="#000" stroke-width="0.7"/>
<text transform="translate(434.04,155.3) rotate(-90)" text-anchor="end" font-family="Liberation Sans, sans-serif" font-size="5.4" font-weight="bold" letter-spacing="0.6" fill="#000">Aconitate</text>
<rect x="435.62" y="119.60" width="3.6" height="32.60" fill="#000"/>
<line x1="437.42" y1="119.60" x2="437.42" y2="107.21" stroke="#000" stroke-width="0.85"/>
<line x1="436.12" y1="107.21" x2="438.72" y2="107.21" stroke="#000" stroke-width="0.85"/>
<line x1="437.42" y1="152.2" x2="437.42" y2="154.0" stroke="#000" stroke-width="0.7"/>
<text transform="translate(439.32,155.3) rotate(-90)" text-anchor="end" font-family="Liberation Sans, sans-serif" font-size="5.4" font-weight="bold" letter-spacing="0.6" fill="#000">4-Pyridoxate</text>
<rect x="440.90" y="126.15" width="3.6" height="26.05" fill="#000"/>
<line x1="442.70" y1="126.15" x2="442.70" y2="117.93" stroke="#000" stroke-width="0.85"/>
<line x1="441.40" y1="117.93" x2="444.00" y2="117.93" stroke="#000" stroke-width="0.85"/>
<line x1="442.70" y1="152.2" x2="442.70" y2="154.0" stroke="#000" stroke-width="0.7"/>
<text transform="translate(444.60,155.3) rotate(-90)" text-anchor="end" font-family="Liberation Sans, sans-serif" font-size="5.4" font-weight="bold" letter-spacing="0.6" fill="#000">Taurine</text>
<rect x="446.18" y="134.37" width="3.6" height="17.83" fill="#000"/>
<line x1="447.98" y1="134.37" x2="447.98" y2="128.80" stroke="#000" stroke-width="0.85"/>
<line x1="446.68" y1="128.80" x2="449.28" y2="128.80" stroke="#000" stroke-width="0.85"/>
<line x1="447.98" y1="152.2" x2="447.98" y2="154.0" stroke="#000" stroke-width="0.7"/>
<text transform="translate(449.88,155.3) rotate(-90)" text-anchor="end" font-family="Liberation Sans, sans-serif" font-size="5.4" font-weight="bold" letter-spacing="0.6" fill="#000">glutaric acid</text>
<rect x="451.46" y="136.32" width="3.6" height="15.88" fill="#000"/>
<line x1="453.26" y1="136.32" x2="453.26" y2="124.34" stroke="#000" stroke-width="0.85"/>
<line x1="451.96" y1="124.34" x2="454.56" y2="124.34" stroke="#000" stroke-width="0.85"/>
<line x1="453.26" y1="152.2" x2="453.26" y2="154.0" stroke="#000" stroke-width="0.7"/>
<text transform="translate(455.16,155.3) rotate(-90)" text-anchor="end" font-family="Liberation Sans, sans-serif" font-size="5.4" font-weight="bold" letter-spacing="0.6" fill="#000">D-Gluconate</text>
<rect x="456.74" y="138.13" width="3.6" height="14.07" fill="#000"/>
<line x1="458.54" y1="138.13" x2="458.54" y2="135.48" stroke="#000" stroke-width="0.85"/>
<line x1="457.24" y1="135.48" x2="459.84" y2="135.48" stroke="#000" stroke-width="0.85"/>
<line x1="458.54" y1="152.2" x2="458.54" y2="154.0" stroke="#000" stroke-width="0.7"/>
<text transform="translate(460.44,155.3) rotate(-90)" text-anchor="end" font-family="Liberation Sans, sans-serif" font-size="5.4" font-weight="bold" letter-spacing="0.6" fill="#000">Lactate</text>
<line x1="259.4" y1="12.3" x2="259.4" y2="152.7" stroke="#5a5a5a" stroke-width="1.1"/>
<line x1="258.9" y1="152.2" x2="463.5" y2="152.2" stroke="#111" stroke-width="1"/>
<line x1="259.4" y1="138.26999999999998" x2="462" y2="138.26999999999998" stroke="#000" stroke-width="1"/>
<line x1="257.0" y1="152.20" x2="259.4" y2="152.20" stroke="#222" stroke-width="0.8"/>
<text x="255.79999999999998" y="155.0" text-anchor="end" font-family="Liberation Sans, sans-serif" font-size="6.0" font-weight="bold" letter-spacing="0.6" fill="#000" stroke="#000" stroke-width="0.15">0</text>
<line x1="258.0" y1="138.27" x2="259.4" y2="138.27" stroke="#222" stroke-width="0.8"/>
<line x1="257.0" y1="124.34" x2="259.4" y2="124.34" stroke="#222" stroke-width="0.8"/>
<text x="255.79999999999998" y="127.1" text-anchor="end" font-family="Liberation Sans, sans-serif" font-size="6.0" font-weight="bold" letter-spacing="0.6" fill="#000" stroke="#000" stroke-width="0.15">2</text>
<line x1="258.0" y1="110.41" x2="259.4" y2="110.41" stroke="#222" stroke-width="0.8"/>
<line x1="257.0" y1="96.48" x2="259.4" y2="96.48" stroke="#222" stroke-width="0.8"/>
<text x="255.79999999999998" y="99.3" text-anchor="end" font-family="Liberation Sans, sans-serif" font-size="6.0" font-weight="bold" letter-spacing="0.6" fill="#000" stroke="#000" stroke-width="0.15">4</text>
<line x1="258.0" y1="82.55" x2="259.4" y2="82.55" stroke="#222" stroke-width="0.8"/>
<line x1="257.0" y1="68.62" x2="259.4" y2="68.62" stroke="#222" stroke-width="0.8"/>
<text x="255.79999999999998" y="71.4" text-anchor="end" font-family="Liberation Sans, sans-serif" font-size="6.0" font-weight="bold" letter-spacing="0.6" fill="#000" stroke="#000" stroke-width="0.15">6</text>
<line x1="258.0" y1="54.69" x2="259.4" y2="54.69" stroke="#222" stroke-width="0.8"/>
<line x1="257.0" y1="40.76" x2="259.4" y2="40.76" stroke="#222" stroke-width="0.8"/>
<text x="255.79999999999998" y="43.6" text-anchor="end" font-family="Liberation Sans, sans-serif" font-size="6.0" font-weight="bold" letter-spacing="0.6" fill="#000" stroke="#000" stroke-width="0.15">8</text>
<line x1="258.0" y1="26.83" x2="259.4" y2="26.83" stroke="#222" stroke-width="0.8"/>
<line x1="257.0" y1="12.90" x2="259.4" y2="12.90" stroke="#222" stroke-width="0.8"/>
<text x="255.79999999999998" y="15.7" text-anchor="end" font-family="Liberation Sans, sans-serif" font-size="6.0" font-weight="bold" letter-spacing="0.6" fill="#000" stroke="#000" stroke-width="0.15">10</text>
<text transform="translate(249.8,82) rotate(-90)" text-anchor="middle" font-family="Liberation Sans, sans-serif" font-size="7.0" font-weight="bold" letter-spacing="0.62" fill="#000" stroke="#000" stroke-width="0.15">VIP Score</text>
<text x="284.3" y="36" text-anchor="middle" font-family="Liberation Sans, sans-serif" font-size="5.9" font-weight="bold" letter-spacing="1.0" fill="#000" stroke="#000" stroke-width="0.2">VIP1</text>
<text x="335.5" y="36" text-anchor="middle" font-family="Liberation Sans, sans-serif" font-size="5.9" font-weight="bold" letter-spacing="1.0" fill="#000" stroke="#000" stroke-width="0.2">VIP2</text>
<text x="382" y="36" text-anchor="middle" font-family="Liberation Sans, sans-serif" font-size="5.9" font-weight="bold" letter-spacing="1.0" fill="#000" stroke="#000" stroke-width="0.2">VIP3</text>
<text x="443.5" y="36" text-anchor="middle" font-family="Liberation Sans, sans-serif" font-size="5.9" font-weight="bold" letter-spacing="1.0" fill="#000" stroke="#000" stroke-width="0.2">VIP4</text>
<text x="228.9" y="263" font-family="Liberation Sans, sans-serif" font-size="15.4" fill="#111" stroke="#111" stroke-width="0.25">d.</text>
<rect x="253.62" y="299.83" width="2.36" height="89.57" fill="#000"/>
<line x1="254.80" y1="299.83" x2="254.80" y2="276.98" stroke="#000" stroke-width="0.9"/>
<line x1="254.80" y1="389.4" x2="254.80" y2="391.2" stroke="#000" stroke-width="0.6"/>
<rect x="256.98" y="308.97" width="2.36" height="80.43" fill="#000"/>
<line x1="258.16" y1="308.97" x2="258.16" y2="291.14" stroke="#000" stroke-width="0.9"/>
<line x1="258.16" y1="389.4" x2="258.16" y2="391.2" stroke="#000" stroke-width="0.6"/>
<rect x="260.34" y="314.91" width="2.36" height="74.49" fill="#000"/>
<line x1="261.52" y1="314.91" x2="261.52" y2="288.86" stroke="#000" stroke-width="0.9"/>
<line x1="261.52" y1="389.4" x2="261.52" y2="391.2" stroke="#000" stroke-width="0.6"/>
<rect x="263.70" y="306.23" width="2.36" height="83.17" fill="#000"/>
<line x1="264.88" y1="306.23" x2="264.88" y2="284.75" stroke="#000" stroke-width="0.9"/>
<line x1="264.88" y1="389.4" x2="264.88" y2="391.2" stroke="#000" stroke-width="0.6"/>
<rect x="267.06" y="319.02" width="2.36" height="70.38" fill="#000"/>
<line x1="268.24" y1="319.02" x2="268.24" y2="297.09" stroke="#000" stroke-width="0.9"/>
<line x1="268.24" y1="389.4" x2="268.24" y2="391.2" stroke="#000" stroke-width="0.6"/>
<rect x="270.42" y="361.98" width="2.36" height="27.42" fill="#000"/>
<line x1="271.60" y1="361.98" x2="271.60" y2="340.50" stroke="#000" stroke-width="0.9"/>
<line x1="271.60" y1="389.4" x2="271.60" y2="391.2" stroke="#000" stroke-width="0.6"/>
<rect x="273.78" y="321.31" width="2.36" height="68.09" fill="#000"/>
<line x1="274.96" y1="321.31" x2="274.96" y2="301.20" stroke="#000" stroke-width="0.9"/>
<line x1="274.96" y1="389.4" x2="274.96" y2="391.2" stroke="#000" stroke-width="0.6"/>
<rect x="277.14" y="298.46" width="2.36" height="90.94" fill="#000"/>
<line x1="278.32" y1="298.46" x2="278.32" y2="294.34" stroke="#000" stroke-width="0.9"/>
<line x1="278.32" y1="389.4" x2="278.32" y2="391.2" stroke="#000" stroke-width="0.6"/>
<rect x="280.50" y="341.87" width="2.36" height="47.53" fill="#000"/>
<line x1="281.68" y1="341.87" x2="281.68" y2="318.11" stroke="#000" stroke-width="0.9"/>
<line x1="281.68" y1="389.4" x2="281.68" y2="391.2" stroke="#000" stroke-width="0.6"/>
<rect x="283.86" y="356.04" width="2.36" height="33.36" fill="#000"/>
<line x1="285.04" y1="356.04" x2="285.04" y2="342.33" stroke="#000" stroke-width="0.9"/>
<line x1="285.04" y1="389.4" x2="285.04" y2="391.2" stroke="#000" stroke-width="0.6"/>
<rect x="287.22" y="344.16" width="2.36" height="45.24" fill="#000"/>
<line x1="288.40" y1="344.16" x2="288.40" y2="320.39" stroke="#000" stroke-width="0.9"/>
<line x1="288.40" y1="389.4" x2="288.40" y2="391.2" stroke="#000" stroke-width="0.6"/>
<rect x="290.58" y="334.10" width="2.36" height="55.30" fill="#000"/>
<line x1="291.76" y1="334.10" x2="291.76" y2="323.13" stroke="#000" stroke-width="0.9"/>
<line x1="291.76" y1="389.4" x2="291.76" y2="391.2" stroke="#000" stroke-width="0.6"/>
<rect x="293.94" y="309.88" width="2.36" height="79.52" fill="#000"/>
<line x1="295.12" y1="309.88" x2="295.12" y2="303.94" stroke="#000" stroke-width="0.9"/>
<line x1="295.12" y1="389.4" x2="295.12" y2="391.2" stroke="#000" stroke-width="0.6"/>
<rect x="297.30" y="346.90" width="2.36" height="42.50" fill="#000"/>
<line x1="298.48" y1="346.90" x2="298.48" y2="327.25" stroke="#000" stroke-width="0.9"/>
<line x1="298.48" y1="389.4" x2="298.48" y2="391.2" stroke="#000" stroke-width="0.6"/>
<rect x="300.66" y="316.28" width="2.36" height="73.12" fill="#000"/>
<line x1="301.84" y1="316.28" x2="301.84" y2="303.94" stroke="#000" stroke-width="0.9"/>
<line x1="301.84" y1="389.4" x2="301.84" y2="391.2" stroke="#000" stroke-width="0.6"/>
<rect x="304.02" y="307.14" width="2.36" height="82.26" fill="#000"/>
<line x1="305.20" y1="307.14" x2="305.20" y2="298.91" stroke="#000" stroke-width="0.9"/>
<line x1="305.20" y1="389.4" x2="305.20" y2="391.2" stroke="#000" stroke-width="0.6"/>
<rect x="307.38" y="307.14" width="2.36" height="82.26" fill="#000"/>
<line x1="308.56" y1="307.14" x2="308.56" y2="303.94" stroke="#000" stroke-width="0.9"/>
<line x1="308.56" y1="389.4" x2="308.56" y2="391.2" stroke="#000" stroke-width="0.6"/>
<rect x="310.74" y="342.79" width="2.36" height="46.61" fill="#000"/>
<line x1="311.92" y1="342.79" x2="311.92" y2="329.08" stroke="#000" stroke-width="0.9"/>
<line x1="311.92" y1="389.4" x2="311.92" y2="391.2" stroke="#000" stroke-width="0.6"/>
<rect x="314.10" y="324.96" width="2.36" height="64.44" fill="#000"/>
<line x1="315.28" y1="324.96" x2="315.28" y2="318.11" stroke="#000" stroke-width="0.9"/>
<line x1="315.28" y1="389.4" x2="315.28" y2="391.2" stroke="#000" stroke-width="0.6"/>
<rect x="317.46" y="333.65" width="2.36" height="55.75" fill="#000"/>
<line x1="318.64" y1="333.65" x2="318.64" y2="325.42" stroke="#000" stroke-width="0.9"/>
<line x1="318.64" y1="389.4" x2="318.64" y2="391.2" stroke="#000" stroke-width="0.6"/>
<rect x="320.82" y="351.93" width="2.36" height="37.47" fill="#000"/>
<line x1="322.00" y1="351.93" x2="322.00" y2="332.27" stroke="#000" stroke-width="0.9"/>
<line x1="322.00" y1="389.4" x2="322.00" y2="391.2" stroke="#000" stroke-width="0.6"/>
<rect x="324.18" y="315.37" width="2.36" height="74.03" fill="#000"/>
<line x1="325.36" y1="315.37" x2="325.36" y2="308.97" stroke="#000" stroke-width="0.9"/>
<line x1="325.36" y1="389.4" x2="325.36" y2="391.2" stroke="#000" stroke-width="0.6"/>
<rect x="327.54" y="324.96" width="2.36" height="64.44" fill="#000"/>
<line x1="328.72" y1="324.96" x2="328.72" y2="316.28" stroke="#000" stroke-width="0.9"/>
<line x1="328.72" y1="389.4" x2="328.72" y2="391.2" stroke="#000" stroke-width="0.6"/>
<rect x="330.90" y="332.73" width="2.36" height="56.67" fill="#000"/>
<line x1="332.08" y1="332.73" x2="332.08" y2="319.02" stroke="#000" stroke-width="0.9"/>
<line x1="332.08" y1="389.4" x2="332.08" y2="391.2" stroke="#000" stroke-width="0.6"/>
<rect x="334.26" y="339.59" width="2.36" height="49.81" fill="#000"/>
<line x1="335.44" y1="339.59" x2="335.44" y2="325.42" stroke="#000" stroke-width="0.9"/>
<line x1="335.44" y1="389.4" x2="335.44" y2="391.2" stroke="#000" stroke-width="0.6"/>
<rect x="337.62" y="340.50" width="2.36" height="48.90" fill="#000"/>
<line x1="338.80" y1="340.50" x2="338.80" y2="332.73" stroke="#000" stroke-width="0.9"/>
<line x1="338.80" y1="389.4" x2="338.80" y2="391.2" stroke="#000" stroke-width="0.6"/>
<rect x="340.98" y="343.24" width="2.36" height="46.16" fill="#000"/>
<line x1="342.16" y1="343.24" x2="342.16" y2="326.33" stroke="#000" stroke-width="0.9"/>
<line x1="342.16" y1="389.4" x2="342.16" y2="391.2" stroke="#000" stroke-width="0.6"/>
<rect x="344.34" y="345.53" width="2.36" height="43.87" fill="#000"/>
<line x1="345.52" y1="345.53" x2="345.52" y2="329.08" stroke="#000" stroke-width="0.9"/>
<line x1="345.52" y1="389.4" x2="345.52" y2="391.2" stroke="#000" stroke-width="0.6"/>
<rect x="347.70" y="334.56" width="2.36" height="54.84" fill="#000"/>
<line x1="348.88" y1="334.56" x2="348.88" y2="324.05" stroke="#000" stroke-width="0.9"/>
<line x1="348.88" y1="389.4" x2="348.88" y2="391.2" stroke="#000" stroke-width="0.6"/>
<rect x="351.06" y="336.39" width="2.36" height="53.01" fill="#000"/>
<line x1="352.24" y1="336.39" x2="352.24" y2="325.42" stroke="#000" stroke-width="0.9"/>
<line x1="352.24" y1="389.4" x2="352.24" y2="391.2" stroke="#000" stroke-width="0.6"/>
<rect x="354.42" y="327.70" width="2.36" height="61.70" fill="#000"/>
<line x1="355.60" y1="327.70" x2="355.60" y2="321.31" stroke="#000" stroke-width="0.9"/>
<line x1="355.60" y1="389.4" x2="355.60" y2="391.2" stroke="#000" stroke-width="0.6"/>
<rect x="359.02" y="286.12" width="2.36" height="103.28" fill="#000"/>
<line x1="360.20" y1="286.12" x2="360.20" y2="276.98" stroke="#000" stroke-width="0.9"/>
<line x1="360.20" y1="389.4" x2="360.20" y2="391.2" stroke="#000" stroke-width="0.6"/>
<rect x="362.38" y="297.09" width="2.36" height="92.31" fill="#000"/>
<line x1="363.56" y1="297.09" x2="363.56" y2="291.14" stroke="#000" stroke-width="0.9"/>
<line x1="363.56" y1="389.4" x2="363.56" y2="391.2" stroke="#000" stroke-width="0.6"/>
<rect x="365.74" y="298.00" width="2.36" height="91.40" fill="#000"/>
<line x1="366.92" y1="298.00" x2="366.92" y2="292.06" stroke="#000" stroke-width="0.9"/>
<line x1="366.92" y1="389.4" x2="366.92" y2="391.2" stroke="#000" stroke-width="0.6"/>
<rect x="369.10" y="302.11" width="2.36" height="87.29" fill="#000"/>
<line x1="370.28" y1="302.11" x2="370.28" y2="290.23" stroke="#000" stroke-width="0.9"/>
<line x1="370.28" y1="389.4" x2="370.28" y2="391.2" stroke="#000" stroke-width="0.6"/>
<rect x="372.46" y="306.23" width="2.36" height="83.17" fill="#000"/>
<line x1="373.64" y1="306.23" x2="373.64" y2="296.17" stroke="#000" stroke-width="0.9"/>
<line x1="373.64" y1="389.4" x2="373.64" y2="391.2" stroke="#000" stroke-width="0.6"/>
<rect x="375.82" y="320.85" width="2.36" height="68.55" fill="#000"/>
<line x1="377.00" y1="320.85" x2="377.00" y2="303.94" stroke="#000" stroke-width="0.9"/>
<line x1="377.00" y1="389.4" x2="377.00" y2="391.2" stroke="#000" stroke-width="0.6"/>
<rect x="379.18" y="323.13" width="2.36" height="66.27" fill="#000"/>
<line x1="380.36" y1="323.13" x2="380.36" y2="310.34" stroke="#000" stroke-width="0.9"/>
<line x1="380.36" y1="389.4" x2="380.36" y2="391.2" stroke="#000" stroke-width="0.6"/>
<rect x="382.54" y="324.51" width="2.36" height="64.89" fill="#000"/>
<line x1="383.72" y1="324.51" x2="383.72" y2="317.19" stroke="#000" stroke-width="0.9"/>
<line x1="383.72" y1="389.4" x2="383.72" y2="391.2" stroke="#000" stroke-width="0.6"/>
<rect x="385.90" y="325.42" width="2.36" height="63.98" fill="#000"/>
<line x1="387.08" y1="325.42" x2="387.08" y2="314.45" stroke="#000" stroke-width="0.9"/>
<line x1="387.08" y1="389.4" x2="387.08" y2="391.2" stroke="#000" stroke-width="0.6"/>
<rect x="389.26" y="327.25" width="2.36" height="62.15" fill="#000"/>
<line x1="390.44" y1="327.25" x2="390.44" y2="314.91" stroke="#000" stroke-width="0.9"/>
<line x1="390.44" y1="389.4" x2="390.44" y2="391.2" stroke="#000" stroke-width="0.6"/>
<rect x="392.62" y="328.16" width="2.36" height="61.24" fill="#000"/>
<line x1="393.80" y1="328.16" x2="393.80" y2="320.39" stroke="#000" stroke-width="0.9"/>
<line x1="393.80" y1="389.4" x2="393.80" y2="391.2" stroke="#000" stroke-width="0.6"/>
<rect x="395.98" y="329.53" width="2.36" height="59.87" fill="#000"/>
<line x1="397.16" y1="329.53" x2="397.16" y2="324.05" stroke="#000" stroke-width="0.9"/>
<line x1="397.16" y1="389.4" x2="397.16" y2="391.2" stroke="#000" stroke-width="0.6"/>
<rect x="399.34" y="330.45" width="2.36" height="58.95" fill="#000"/>
<line x1="400.52" y1="330.45" x2="400.52" y2="323.13" stroke="#000" stroke-width="0.9"/>
<line x1="400.52" y1="389.4" x2="400.52" y2="391.2" stroke="#000" stroke-width="0.6"/>
<rect x="402.70" y="331.36" width="2.36" height="58.04" fill="#000"/>
<line x1="403.88" y1="331.36" x2="403.88" y2="325.42" stroke="#000" stroke-width="0.9"/>
<line x1="403.88" y1="389.4" x2="403.88" y2="391.2" stroke="#000" stroke-width="0.6"/>
<rect x="406.06" y="331.82" width="2.36" height="57.58" fill="#000"/>
<line x1="407.24" y1="331.82" x2="407.24" y2="328.16" stroke="#000" stroke-width="0.9"/>
<line x1="407.24" y1="389.4" x2="407.24" y2="391.2" stroke="#000" stroke-width="0.6"/>
<rect x="409.42" y="332.27" width="2.36" height="57.12" fill="#000"/>
<line x1="410.60" y1="332.27" x2="410.60" y2="325.42" stroke="#000" stroke-width="0.9"/>
<line x1="410.60" y1="389.4" x2="410.60" y2="391.2" stroke="#000" stroke-width="0.6"/>
<rect x="412.78" y="332.73" width="2.36" height="56.67" fill="#000"/>
<line x1="413.96" y1="332.73" x2="413.96" y2="327.25" stroke="#000" stroke-width="0.9"/>
<line x1="413.96" y1="389.4" x2="413.96" y2="391.2" stroke="#000" stroke-width="0.6"/>
<rect x="416.14" y="334.56" width="2.36" height="54.84" fill="#000"/>
<line x1="417.32" y1="334.56" x2="417.32" y2="330.45" stroke="#000" stroke-width="0.9"/>
<line x1="417.32" y1="389.4" x2="417.32" y2="391.2" stroke="#000" stroke-width="0.6"/>
<rect x="419.50" y="335.47" width="2.36" height="53.93" fill="#000"/>
<line x1="420.68" y1="335.47" x2="420.68" y2="329.08" stroke="#000" stroke-width="0.9"/>
<line x1="420.68" y1="389.4" x2="420.68" y2="391.2" stroke="#000" stroke-width="0.6"/>
<rect x="422.86" y="335.47" width="2.36" height="53.93" fill="#000"/>
<line x1="424.04" y1="335.47" x2="424.04" y2="327.25" stroke="#000" stroke-width="0.9"/>
<line x1="424.04" y1="389.4" x2="424.04" y2="391.2" stroke="#000" stroke-width="0.6"/>
<rect x="426.22" y="335.47" width="2.36" height="53.93" fill="#000"/>
<line x1="427.40" y1="335.47" x2="427.40" y2="329.08" stroke="#000" stroke-width="0.9"/>
<line x1="427.40" y1="389.4" x2="427.40" y2="391.2" stroke="#000" stroke-width="0.6"/>
<rect x="429.58" y="335.93" width="2.36" height="53.47" fill="#000"/>
<line x1="430.76" y1="335.93" x2="430.76" y2="329.99" stroke="#000" stroke-width="0.9"/>
<line x1="430.76" y1="389.4" x2="430.76" y2="391.2" stroke="#000" stroke-width="0.6"/>
<rect x="432.94" y="336.39" width="2.36" height="53.01" fill="#000"/>
<line x1="434.12" y1="336.39" x2="434.12" y2="331.82" stroke="#000" stroke-width="0.9"/>
<line x1="434.12" y1="389.4" x2="434.12" y2="391.2" stroke="#000" stroke-width="0.6"/>
<rect x="436.30" y="336.84" width="2.36" height="52.55" fill="#000"/>
<line x1="437.48" y1="336.84" x2="437.48" y2="330.90" stroke="#000" stroke-width="0.9"/>
<line x1="437.48" y1="389.4" x2="437.48" y2="391.2" stroke="#000" stroke-width="0.6"/>
<rect x="439.66" y="337.30" width="2.36" height="52.10" fill="#000"/>
<line x1="440.84" y1="337.30" x2="440.84" y2="331.82" stroke="#000" stroke-width="0.9"/>
<line x1="440.84" y1="389.4" x2="440.84" y2="391.2" stroke="#000" stroke-width="0.6"/>
<rect x="443.02" y="337.99" width="2.36" height="51.41" fill="#000"/>
<line x1="444.20" y1="337.99" x2="444.20" y2="332.73" stroke="#000" stroke-width="0.9"/>
<line x1="444.20" y1="389.4" x2="444.20" y2="391.2" stroke="#000" stroke-width="0.6"/>
<rect x="446.38" y="338.22" width="2.36" height="51.18" fill="#000"/>
<line x1="447.56" y1="338.22" x2="447.56" y2="331.82" stroke="#000" stroke-width="0.9"/>
<line x1="447.56" y1="389.4" x2="447.56" y2="391.2" stroke="#000" stroke-width="0.6"/>
<rect x="449.74" y="338.67" width="2.36" height="50.73" fill="#000"/>
<line x1="450.92" y1="338.67" x2="450.92" y2="330.45" stroke="#000" stroke-width="0.9"/>
<line x1="450.92" y1="389.4" x2="450.92" y2="391.2" stroke="#000" stroke-width="0.6"/>
<rect x="453.10" y="339.13" width="2.36" height="50.27" fill="#000"/>
<line x1="454.28" y1="339.13" x2="454.28" y2="330.45" stroke="#000" stroke-width="0.9"/>
<line x1="454.28" y1="389.4" x2="454.28" y2="391.2" stroke="#000" stroke-width="0.6"/>
<rect x="456.46" y="339.59" width="2.36" height="49.81" fill="#000"/>
<line x1="457.64" y1="339.59" x2="457.64" y2="335.02" stroke="#000" stroke-width="0.9"/>
<line x1="457.64" y1="389.4" x2="457.64" y2="391.2" stroke="#000" stroke-width="0.6"/>
<rect x="459.82" y="340.04" width="2.36" height="49.36" fill="#000"/>
<line x1="461.00" y1="340.04" x2="461.00" y2="334.56" stroke="#000" stroke-width="0.9"/>
<line x1="461.00" y1="389.4" x2="461.00" y2="391.2" stroke="#000" stroke-width="0.6"/>
<rect x="464.92" y="298.00" width="2.36" height="91.40" fill="#000"/>
<line x1="466.10" y1="298.00" x2="466.10" y2="290.23" stroke="#000" stroke-width="0.9"/>
<line x1="466.10" y1="389.4" x2="466.10" y2="391.2" stroke="#000" stroke-width="0.6"/>
<rect x="468.28" y="308.97" width="2.36" height="80.43" fill="#000"/>
<line x1="469.46" y1="308.97" x2="469.46" y2="304.85" stroke="#000" stroke-width="0.9"/>
<line x1="469.46" y1="389.4" x2="469.46" y2="391.2" stroke="#000" stroke-width="0.6"/>
<rect x="471.64" y="308.97" width="2.36" height="80.43" fill="#000"/>
<line x1="472.82" y1="308.97" x2="472.82" y2="302.57" stroke="#000" stroke-width="0.9"/>
<line x1="472.82" y1="389.4" x2="472.82" y2="391.2" stroke="#000" stroke-width="0.6"/>
<rect x="475.00" y="312.62" width="2.36" height="76.78" fill="#000"/>
<line x1="476.18" y1="312.62" x2="476.18" y2="302.57" stroke="#000" stroke-width="0.9"/>
<line x1="476.18" y1="389.4" x2="476.18" y2="391.2" stroke="#000" stroke-width="0.6"/>
<rect x="478.36" y="315.37" width="2.36" height="74.03" fill="#000"/>
<line x1="479.54" y1="315.37" x2="479.54" y2="307.60" stroke="#000" stroke-width="0.9"/>
<line x1="479.54" y1="389.4" x2="479.54" y2="391.2" stroke="#000" stroke-width="0.6"/>
<rect x="481.72" y="325.42" width="2.36" height="63.98" fill="#000"/>
<line x1="482.90" y1="325.42" x2="482.90" y2="313.08" stroke="#000" stroke-width="0.9"/>
<line x1="482.90" y1="389.4" x2="482.90" y2="391.2" stroke="#000" stroke-width="0.6"/>
<rect x="485.08" y="330.90" width="2.36" height="58.50" fill="#000"/>
<line x1="486.26" y1="330.90" x2="486.26" y2="320.39" stroke="#000" stroke-width="0.9"/>
<line x1="486.26" y1="389.4" x2="486.26" y2="391.2" stroke="#000" stroke-width="0.6"/>
<rect x="488.44" y="327.70" width="2.36" height="61.70" fill="#000"/>
<line x1="489.62" y1="327.70" x2="489.62" y2="322.68" stroke="#000" stroke-width="0.9"/>
<line x1="489.62" y1="389.4" x2="489.62" y2="391.2" stroke="#000" stroke-width="0.6"/>
<rect x="491.80" y="333.65" width="2.36" height="55.75" fill="#000"/>
<line x1="492.98" y1="333.65" x2="492.98" y2="326.56" stroke="#000" stroke-width="0.9"/>
<line x1="492.98" y1="389.4" x2="492.98" y2="391.2" stroke="#000" stroke-width="0.6"/>
<rect x="495.16" y="326.56" width="2.36" height="62.84" fill="#000"/>
<line x1="496.34" y1="326.56" x2="496.34" y2="321.31" stroke="#000" stroke-width="0.9"/>
<line x1="496.34" y1="389.4" x2="496.34" y2="391.2" stroke="#000" stroke-width="0.6"/>
<rect x="498.52" y="329.08" width="2.36" height="60.32" fill="#000"/>
<line x1="499.70" y1="329.08" x2="499.70" y2="319.48" stroke="#000" stroke-width="0.9"/>
<line x1="499.70" y1="389.4" x2="499.70" y2="391.2" stroke="#000" stroke-width="0.6"/>
<rect x="501.88" y="336.84" width="2.36" height="52.55" fill="#000"/>
<line x1="503.06" y1="336.84" x2="503.06" y2="332.73" stroke="#000" stroke-width="0.9"/>
<line x1="503.06" y1="389.4" x2="503.06" y2="391.2" stroke="#000" stroke-width="0.6"/>
<rect x="505.24" y="336.39" width="2.36" height="53.01" fill="#000"/>
<line x1="506.42" y1="336.39" x2="506.42" y2="330.45" stroke="#000" stroke-width="0.9"/>
<line x1="506.42" y1="389.4" x2="506.42" y2="391.2" stroke="#000" stroke-width="0.6"/>
<rect x="508.60" y="335.47" width="2.36" height="53.93" fill="#000"/>
<line x1="509.78" y1="335.47" x2="509.78" y2="330.45" stroke="#000" stroke-width="0.9"/>
<line x1="509.78" y1="389.4" x2="509.78" y2="391.2" stroke="#000" stroke-width="0.6"/>
<rect x="511.96" y="332.73" width="2.36" height="56.67" fill="#000"/>
<line x1="513.14" y1="332.73" x2="513.14" y2="328.16" stroke="#000" stroke-width="0.9"/>
<line x1="513.14" y1="389.4" x2="513.14" y2="391.2" stroke="#000" stroke-width="0.6"/>
<rect x="515.32" y="333.19" width="2.36" height="56.21" fill="#000"/>
<line x1="516.50" y1="333.19" x2="516.50" y2="330.45" stroke="#000" stroke-width="0.9"/>
<line x1="516.50" y1="389.4" x2="516.50" y2="391.2" stroke="#000" stroke-width="0.6"/>
<rect x="518.68" y="336.39" width="2.36" height="53.01" fill="#000"/>
<line x1="519.86" y1="336.39" x2="519.86" y2="330.45" stroke="#000" stroke-width="0.9"/>
<line x1="519.86" y1="389.4" x2="519.86" y2="391.2" stroke="#000" stroke-width="0.6"/>
<rect x="522.04" y="338.22" width="2.36" height="51.18" fill="#000"/>
<line x1="523.22" y1="338.22" x2="523.22" y2="335.02" stroke="#000" stroke-width="0.9"/>
<line x1="523.22" y1="389.4" x2="523.22" y2="391.2" stroke="#000" stroke-width="0.6"/>
<rect x="525.40" y="337.30" width="2.36" height="52.10" fill="#000"/>
<line x1="526.58" y1="337.30" x2="526.58" y2="332.73" stroke="#000" stroke-width="0.9"/>
<line x1="526.58" y1="389.4" x2="526.58" y2="391.2" stroke="#000" stroke-width="0.6"/>
<rect x="528.76" y="340.50" width="2.36" height="48.90" fill="#000"/>
<line x1="529.94" y1="340.50" x2="529.94" y2="335.47" stroke="#000" stroke-width="0.9"/>
<line x1="529.94" y1="389.4" x2="529.94" y2="391.2" stroke="#000" stroke-width="0.6"/>
<rect x="532.12" y="340.96" width="2.36" height="48.44" fill="#000"/>
<line x1="533.30" y1="340.96" x2="533.30" y2="335.02" stroke="#000" stroke-width="0.9"/>
<line x1="533.30" y1="389.4" x2="533.30" y2="391.2" stroke="#000" stroke-width="0.6"/>
<rect x="535.48" y="342.33" width="2.36" height="47.07" fill="#000"/>
<line x1="536.66" y1="342.33" x2="536.66" y2="335.47" stroke="#000" stroke-width="0.9"/>
<line x1="536.66" y1="389.4" x2="536.66" y2="391.2" stroke="#000" stroke-width="0.6"/>
<rect x="538.84" y="339.13" width="2.36" height="50.27" fill="#000"/>
<line x1="540.02" y1="339.13" x2="540.02" y2="330.45" stroke="#000" stroke-width="0.9"/>
<line x1="540.02" y1="389.4" x2="540.02" y2="391.2" stroke="#000" stroke-width="0.6"/>
<rect x="542.20" y="343.24" width="2.36" height="46.16" fill="#000"/>
<line x1="543.38" y1="343.24" x2="543.38" y2="338.22" stroke="#000" stroke-width="0.9"/>
<line x1="543.38" y1="389.4" x2="543.38" y2="391.2" stroke="#000" stroke-width="0.6"/>
<rect x="545.56" y="342.33" width="2.36" height="47.07" fill="#000"/>
<line x1="546.74" y1="342.33" x2="546.74" y2="338.22" stroke="#000" stroke-width="0.9"/>
<line x1="546.74" y1="389.4" x2="546.74" y2="391.2" stroke="#000" stroke-width="0.6"/>
<rect x="548.92" y="340.50" width="2.36" height="48.90" fill="#000"/>
<line x1="550.10" y1="340.50" x2="550.10" y2="335.47" stroke="#000" stroke-width="0.9"/>
<line x1="550.10" y1="389.4" x2="550.10" y2="391.2" stroke="#000" stroke-width="0.6"/>
<rect x="552.28" y="343.24" width="2.36" height="46.16" fill="#000"/>
<line x1="553.46" y1="343.24" x2="553.46" y2="340.50" stroke="#000" stroke-width="0.9"/>
<line x1="553.46" y1="389.4" x2="553.46" y2="391.2" stroke="#000" stroke-width="0.6"/>
<rect x="555.64" y="343.24" width="2.36" height="46.16" fill="#000"/>
<line x1="556.82" y1="343.24" x2="556.82" y2="339.13" stroke="#000" stroke-width="0.9"/>
<line x1="556.82" y1="389.4" x2="556.82" y2="391.2" stroke="#000" stroke-width="0.6"/>
<rect x="559.00" y="335.47" width="2.36" height="53.93" fill="#000"/>
<line x1="560.18" y1="335.47" x2="560.18" y2="332.27" stroke="#000" stroke-width="0.9"/>
<line x1="560.18" y1="389.4" x2="560.18" y2="391.2" stroke="#000" stroke-width="0.6"/>
<rect x="562.36" y="335.47" width="2.36" height="53.93" fill="#000"/>
<line x1="563.54" y1="335.47" x2="563.54" y2="329.53" stroke="#000" stroke-width="0.9"/>
<line x1="563.54" y1="389.4" x2="563.54" y2="391.2" stroke="#000" stroke-width="0.6"/>
<rect x="565.72" y="346.44" width="2.36" height="42.96" fill="#000"/>
<line x1="566.90" y1="346.44" x2="566.90" y2="343.24" stroke="#000" stroke-width="0.9"/>
<line x1="566.90" y1="389.4" x2="566.90" y2="391.2" stroke="#000" stroke-width="0.6"/>
<rect x="571.12" y="310.34" width="2.36" height="79.06" fill="#000"/>
<line x1="572.30" y1="310.34" x2="572.30" y2="302.11" stroke="#000" stroke-width="0.9"/>
<line x1="572.30" y1="389.4" x2="572.30" y2="391.2" stroke="#000" stroke-width="0.6"/>
<rect x="574.48" y="315.37" width="2.36" height="74.03" fill="#000"/>
<line x1="575.66" y1="315.37" x2="575.66" y2="308.05" stroke="#000" stroke-width="0.9"/>
<line x1="575.66" y1="389.4" x2="575.66" y2="391.2" stroke="#000" stroke-width="0.6"/>
<rect x="577.84" y="319.94" width="2.36" height="69.46" fill="#000"/>
<line x1="579.02" y1="319.94" x2="579.02" y2="314.91" stroke="#000" stroke-width="0.9"/>
<line x1="579.02" y1="389.4" x2="579.02" y2="391.2" stroke="#000" stroke-width="0.6"/>
<rect x="581.20" y="322.68" width="2.36" height="66.72" fill="#000"/>
<line x1="582.38" y1="322.68" x2="582.38" y2="315.37" stroke="#000" stroke-width="0.9"/>
<line x1="582.38" y1="389.4" x2="582.38" y2="391.2" stroke="#000" stroke-width="0.6"/>
<rect x="584.56" y="324.05" width="2.36" height="65.35" fill="#000"/>
<line x1="585.74" y1="324.05" x2="585.74" y2="316.28" stroke="#000" stroke-width="0.9"/>
<line x1="585.74" y1="389.4" x2="585.74" y2="391.2" stroke="#000" stroke-width="0.6"/>
<rect x="587.92" y="329.99" width="2.36" height="59.41" fill="#000"/>
<line x1="589.10" y1="329.99" x2="589.10" y2="313.08" stroke="#000" stroke-width="0.9"/>
<line x1="589.10" y1="389.4" x2="589.10" y2="391.2" stroke="#000" stroke-width="0.6"/>
<rect x="591.28" y="334.10" width="2.36" height="55.30" fill="#000"/>
<line x1="592.46" y1="334.10" x2="592.46" y2="325.42" stroke="#000" stroke-width="0.9"/>
<line x1="592.46" y1="389.4" x2="592.46" y2="391.2" stroke="#000" stroke-width="0.6"/>
<rect x="594.64" y="335.47" width="2.36" height="53.93" fill="#000"/>
<line x1="595.82" y1="335.47" x2="595.82" y2="331.82" stroke="#000" stroke-width="0.9"/>
<line x1="595.82" y1="389.4" x2="595.82" y2="391.2" stroke="#000" stroke-width="0.6"/>
<rect x="598.00" y="338.22" width="2.36" height="51.18" fill="#000"/>
<line x1="599.18" y1="338.22" x2="599.18" y2="332.73" stroke="#000" stroke-width="0.9"/>
<line x1="599.18" y1="389.4" x2="599.18" y2="391.2" stroke="#000" stroke-width="0.6"/>
<rect x="601.36" y="332.73" width="2.36" height="56.67" fill="#000"/>
<line x1="602.54" y1="332.73" x2="602.54" y2="328.16" stroke="#000" stroke-width="0.9"/>
<line x1="602.54" y1="389.4" x2="602.54" y2="391.2" stroke="#000" stroke-width="0.6"/>
<rect x="604.72" y="337.30" width="2.36" height="52.10" fill="#000"/>
<line x1="605.90" y1="337.30" x2="605.90" y2="329.08" stroke="#000" stroke-width="0.9"/>
<line x1="605.90" y1="389.4" x2="605.90" y2="391.2" stroke="#000" stroke-width="0.6"/>
<rect x="608.08" y="342.33" width="2.36" height="47.07" fill="#000"/>
<line x1="609.26" y1="342.33" x2="609.26" y2="340.50" stroke="#000" stroke-width="0.9"/>
<line x1="609.26" y1="389.4" x2="609.26" y2="391.2" stroke="#000" stroke-width="0.6"/>
<rect x="611.44" y="342.33" width="2.36" height="47.07" fill="#000"/>
<line x1="612.62" y1="342.33" x2="612.62" y2="339.59" stroke="#000" stroke-width="0.9"/>
<line x1="612.62" y1="389.4" x2="612.62" y2="391.2" stroke="#000" stroke-width="0.6"/>
<rect x="614.80" y="341.87" width="2.36" height="47.53" fill="#000"/>
<line x1="615.98" y1="341.87" x2="615.98" y2="337.30" stroke="#000" stroke-width="0.9"/>
<line x1="615.98" y1="389.4" x2="615.98" y2="391.2" stroke="#000" stroke-width="0.6"/>
<rect x="618.16" y="335.47" width="2.36" height="53.93" fill="#000"/>
<line x1="619.34" y1="335.47" x2="619.34" y2="331.82" stroke="#000" stroke-width="0.9"/>
<line x1="619.34" y1="389.4" x2="619.34" y2="391.2" stroke="#000" stroke-width="0.6"/>
<rect x="621.52" y="339.13" width="2.36" height="50.27" fill="#000"/>
<line x1="622.70" y1="339.13" x2="622.70" y2="332.73" stroke="#000" stroke-width="0.9"/>
<line x1="622.70" y1="389.4" x2="622.70" y2="391.2" stroke="#000" stroke-width="0.6"/>
<rect x="624.88" y="343.24" width="2.36" height="46.16" fill="#000"/>
<line x1="626.06" y1="343.24" x2="626.06" y2="339.59" stroke="#000" stroke-width="0.9"/>
<line x1="626.06" y1="389.4" x2="626.06" y2="391.2" stroke="#000" stroke-width="0.6"/>
<rect x="628.24" y="344.61" width="2.36" height="44.79" fill="#000"/>
<line x1="629.42" y1="344.61" x2="629.42" y2="341.87" stroke="#000" stroke-width="0.9"/>
<line x1="629.42" y1="389.4" x2="629.42" y2="391.2" stroke="#000" stroke-width="0.6"/>
<rect x="631.60" y="345.07" width="2.36" height="44.33" fill="#000"/>
<line x1="632.78" y1="345.07" x2="632.78" y2="342.33" stroke="#000" stroke-width="0.9"/>
<line x1="632.78" y1="389.4" x2="632.78" y2="391.2" stroke="#000" stroke-width="0.6"/>
<rect x="634.96" y="345.53" width="2.36" height="43.87" fill="#000"/>
<line x1="636.14" y1="345.53" x2="636.14" y2="342.33" stroke="#000" stroke-width="0.9"/>
<line x1="636.14" y1="389.4" x2="636.14" y2="391.2" stroke="#000" stroke-width="0.6"/>
<rect x="638.32" y="345.53" width="2.36" height="43.87" fill="#000"/>
<line x1="639.50" y1="345.53" x2="639.50" y2="341.87" stroke="#000" stroke-width="0.9"/>
<line x1="639.50" y1="389.4" x2="639.50" y2="391.2" stroke="#000" stroke-width="0.6"/>
<rect x="641.68" y="331.82" width="2.36" height="57.58" fill="#000"/>
<line x1="642.86" y1="331.82" x2="642.86" y2="321.31" stroke="#000" stroke-width="0.9"/>
<line x1="642.86" y1="389.4" x2="642.86" y2="391.2" stroke="#000" stroke-width="0.6"/>
<rect x="645.04" y="345.53" width="2.36" height="43.87" fill="#000"/>
<line x1="646.22" y1="345.53" x2="646.22" y2="340.50" stroke="#000" stroke-width="0.9"/>
<line x1="646.22" y1="389.4" x2="646.22" y2="391.2" stroke="#000" stroke-width="0.6"/>
<rect x="648.40" y="346.44" width="2.36" height="42.96" fill="#000"/>
<line x1="649.58" y1="346.44" x2="649.58" y2="342.33" stroke="#000" stroke-width="0.9"/>
<line x1="649.58" y1="389.4" x2="649.58" y2="391.2" stroke="#000" stroke-width="0.6"/>
<rect x="651.76" y="349.64" width="2.36" height="39.76" fill="#000"/>
<line x1="652.94" y1="349.64" x2="652.94" y2="345.53" stroke="#000" stroke-width="0.9"/>
<line x1="652.94" y1="389.4" x2="652.94" y2="391.2" stroke="#000" stroke-width="0.6"/>
<rect x="655.12" y="345.07" width="2.36" height="44.33" fill="#000"/>
<line x1="656.30" y1="345.07" x2="656.30" y2="340.50" stroke="#000" stroke-width="0.9"/>
<line x1="656.30" y1="389.4" x2="656.30" y2="391.2" stroke="#000" stroke-width="0.6"/>
<rect x="658.48" y="350.55" width="2.36" height="38.84" fill="#000"/>
<line x1="659.66" y1="350.55" x2="659.66" y2="347.36" stroke="#000" stroke-width="0.9"/>
<line x1="659.66" y1="389.4" x2="659.66" y2="391.2" stroke="#000" stroke-width="0.6"/>
<rect x="661.84" y="349.64" width="2.36" height="39.76" fill="#000"/>
<line x1="663.02" y1="349.64" x2="663.02" y2="345.53" stroke="#000" stroke-width="0.9"/>
<line x1="663.02" y1="389.4" x2="663.02" y2="391.2" stroke="#000" stroke-width="0.6"/>
<rect x="665.20" y="343.24" width="2.36" height="46.16" fill="#000"/>
<line x1="666.38" y1="343.24" x2="666.38" y2="340.50" stroke="#000" stroke-width="0.9"/>
<line x1="666.38" y1="389.4" x2="666.38" y2="391.2" stroke="#000" stroke-width="0.6"/>
<rect x="668.56" y="342.33" width="2.36" height="47.07" fill="#000"/>
<line x1="669.74" y1="342.33" x2="669.74" y2="336.39" stroke="#000" stroke-width="0.9"/>
<line x1="669.74" y1="389.4" x2="669.74" y2="391.2" stroke="#000" stroke-width="0.6"/>
<rect x="671.92" y="351.93" width="2.36" height="37.47" fill="#000"/>
<line x1="673.10" y1="351.93" x2="673.10" y2="347.36" stroke="#000" stroke-width="0.9"/>
<line x1="673.10" y1="389.4" x2="673.10" y2="391.2" stroke="#000" stroke-width="0.6"/>
<text transform="translate(257.70,392.8) rotate(-90)" text-anchor="end" font-family="Liberation Sans, sans-serif" font-size="5.4" font-weight="bold" letter-spacing="0.6" fill="#000">Adenosine 5'-phosphosulfate</text>
<text transform="translate(264.40,392.8) rotate(-90)" text-anchor="end" font-family="Liberation Sans, sans-serif" font-size="5.4" font-weight="bold" letter-spacing="0.6" fill="#000">Succinate/Methylmalonate</text>
<text transform="translate(271.10,392.8) rotate(-90)" text-anchor="end" font-family="Liberation Sans, sans-serif" font-size="5.4" font-weight="bold" letter-spacing="0.6" fill="#000">2,3-Dihydroxybenzoate</text>
<text transform="translate(277.80,392.8) rotate(-90)" text-anchor="end" font-family="Liberation Sans, sans-serif" font-size="5.4" font-weight="bold" letter-spacing="0.6" fill="#000">N-Acetylglutamine</text>
<text transform="translate(284.50,392.8) rotate(-90)" text-anchor="end" font-family="Liberation Sans, sans-serif" font-size="5.4" font-weight="bold" letter-spacing="0.6" fill="#000">Glutamine</text>
<text transform="translate(291.20,392.8) rotate(-90)" text-anchor="end" font-family="Liberation Sans, sans-serif" font-size="5.4" font-weight="bold" letter-spacing="0.6" fill="#000">dUMP</text>
<text transform="translate(297.90,392.8) rotate(-90)" text-anchor="end" font-family="Liberation Sans, sans-serif" font-size="5.4" font-weight="bold" letter-spacing="0.6" fill="#000">Fructose 1_6-bisphosphate</text>
<text transform="translate(304.60,392.8) rotate(-90)" text-anchor="end" font-family="Liberation Sans, sans-serif" font-size="5.4" font-weight="bold" letter-spacing="0.6" fill="#000">Arginine</text>
<text transform="translate(311.30,392.8) rotate(-90)" text-anchor="end" font-family="Liberation Sans, sans-serif" font-size="5.4" font-weight="bold" letter-spacing="0.6" fill="#000">2-Dehydro-D-gluconate</text>
<text transform="translate(318.00,392.8) rotate(-90)" text-anchor="end" font-family="Liberation Sans, sans-serif" font-size="5.4" font-weight="bold" letter-spacing="0.6" fill="#000">aminocaproic acid</text>
<text transform="translate(324.70,392.8) rotate(-90)" text-anchor="end" font-family="Liberation Sans, sans-serif" font-size="5.4" font-weight="bold" letter-spacing="0.6" fill="#000">4-Pyridoxate</text>
<text transform="translate(331.40,392.8) rotate(-90)" text-anchor="end" font-family="Liberation Sans, sans-serif" font-size="5.4" font-weight="bold" letter-spacing="0.6" fill="#000">Valine/betaine</text>
<text transform="translate(338.10,392.8) rotate(-90)" text-anchor="end" font-family="Liberation Sans, sans-serif" font-size="5.4" font-weight="bold" letter-spacing="0.6" fill="#000">Serine</text>
<text transform="translate(344.80,392.8) rotate(-90)" text-anchor="end" font-family="Liberation Sans, sans-serif" font-size="5.4" font-weight="bold" letter-spacing="0.6" fill="#000">Glutamate</text>
<text transform="translate(351.50,392.8) rotate(-90)" text-anchor="end" font-family="Liberation Sans, sans-serif" font-size="5.4" font-weight="bold" letter-spacing="0.6" fill="#000">Acetyllysine</text>
<text transform="translate(358.20,392.8) rotate(-90)" text-anchor="end" font-family="Liberation Sans, sans-serif" font-size="5.4" font-weight="bold" letter-spacing="0.6" fill="#000">Taurine</text>
<text transform="translate(365.80,392.8) rotate(-90)" text-anchor="end" font-family="Liberation Sans, sans-serif" font-size="5.4" font-weight="bold" letter-spacing="0.6" fill="#000">Citrate/Isocitrate</text>
<text transform="translate(372.55,392.8) rotate(-90)" text-anchor="end" font-family="Liberation Sans, sans-serif" font-size="5.4" font-weight="bold" letter-spacing="0.6" fill="#000">Guanidoacetic acid</text>
<text transform="translate(379.30,392.8) rotate(-90)" text-anchor="end" font-family="Liberation Sans, sans-serif" font-size="5.4" font-weight="bold" letter-spacing="0.6" fill="#000">Uracil</text>
<text transform="translate(386.05,392.8) rotate(-90)" text-anchor="end" font-family="Liberation Sans, sans-serif" font-size="5.4" font-weight="bold" letter-spacing="0.6" fill="#000">Uridine</text>
<text transform="translate(392.80,392.8) rotate(-90)" text-anchor="end" font-family="Liberation Sans, sans-serif" font-size="5.4" font-weight="bold" letter-spacing="0.6" fill="#000">myo-Inositol</text>
<text transform="translate(399.55,392.8) rotate(-90)" text-anchor="end" font-family="Liberation Sans, sans-serif" font-size="5.4" font-weight="bold" letter-spacing="0.6" fill="#000">Ophthalmate</text>
<text transform="translate(406.30,392.8) rotate(-90)" text-anchor="end" font-family="Liberation Sans, sans-serif" font-size="5.4" font-weight="bold" letter-spacing="0.6" fill="#000">Pantothenate</text>
<text transform="translate(413.05,392.8) rotate(-90)" text-anchor="end" font-family="Liberation Sans, sans-serif" font-size="5.4" font-weight="bold" letter-spacing="0.6" fill="#000">1-Methyladenosine</text>
<text transform="translate(419.80,392.8) rotate(-90)" text-anchor="end" font-family="Liberation Sans, sans-serif" font-size="5.4" font-weight="bold" letter-spacing="0.6" fill="#000">Homoserine/Threonine</text>
<text transform="translate(426.55,392.8) rotate(-90)" text-anchor="end" font-family="Liberation Sans, sans-serif" font-size="5.4" font-weight="bold" letter-spacing="0.6" fill="#000">Asparagine</text>
<text transform="translate(433.30,392.8) rotate(-90)" text-anchor="end" font-family="Liberation Sans, sans-serif" font-size="5.4" font-weight="bold" letter-spacing="0.6" fill="#000">5-Hydroxyindoleacetic acid (5-HIAA)</text>
<text transform="translate(440.05,392.8) rotate(-90)" text-anchor="end" font-family="Liberation Sans, sans-serif" font-size="5.4" font-weight="bold" letter-spacing="0.6" fill="#000">Alanine/Sarcosine</text>
<text transform="translate(446.80,392.8) rotate(-90)" text-anchor="end" font-family="Liberation Sans, sans-serif" font-size="5.4" font-weight="bold" letter-spacing="0.6" fill="#000">Glycodeoxycholate</text>
<text transform="translate(453.55,392.8) rotate(-90)" text-anchor="end" font-family="Liberation Sans, sans-serif" font-size="5.4" font-weight="bold" letter-spacing="0.6" fill="#000">Histidine</text>
<text transform="translate(460.30,392.8) rotate(-90)" text-anchor="end" font-family="Liberation Sans, sans-serif" font-size="5.4" font-weight="bold" letter-spacing="0.6" fill="#000">Aspartate</text>
<text transform="translate(469.50,392.8) rotate(-90)" text-anchor="end" font-family="Liberation Sans, sans-serif" font-size="5.4" font-weight="bold" letter-spacing="0.6" fill="#000">Adenosine 5'-phosphosulfate</text>
<text transform="translate(476.21,392.8) rotate(-90)" text-anchor="end" font-family="Liberation Sans, sans-serif" font-size="5.4" font-weight="bold" letter-spacing="0.6" fill="#000">Succinate/Methylmalonate</text>
<text transform="translate(482.92,392.8) rotate(-90)" text-anchor="end" font-family="Liberation Sans, sans-serif" font-size="5.4" font-weight="bold" letter-spacing="0.6" fill="#000">2,3-Dihydroxybenzoate</text>
<text transform="translate(489.63,392.8) rotate(-90)" text-anchor="end" font-family="Liberation Sans, sans-serif" font-size="5.4" font-weight="bold" letter-spacing="0.6" fill="#000">N-Acetylglutamine</text>
<text transform="translate(496.34,392.8) rotate(-90)" text-anchor="end" font-family="Liberation Sans, sans-serif" font-size="5.4" font-weight="bold" letter-spacing="0.6" fill="#000">Glutamine</text>
<text transform="translate(503.05,392.8) rotate(-90)" text-anchor="end" font-family="Liberation Sans, sans-serif" font-size="5.4" font-weight="bold" letter-spacing="0.6" fill="#000">dUMP</text>
<text transform="translate(509.76,392.8) rotate(-90)" text-anchor="end" font-family="Liberation Sans, sans-serif" font-size="5.4" font-weight="bold" letter-spacing="0.6" fill="#000">Fructose 1_6-bisphosphate</text>
<text transform="translate(516.47,392.8) rotate(-90)" text-anchor="end" font-family="Liberation Sans, sans-serif" font-size="5.4" font-weight="bold" letter-spacing="0.6" fill="#000">Arginine</text>
<text transform="translate(523.18,392.8) rotate(-90)" text-anchor="end" font-family="Liberation Sans, sans-serif" font-size="5.4" font-weight="bold" letter-spacing="0.6" fill="#000">2-Dehydro-D-gluconate</text>
<text transform="translate(529.89,392.8) rotate(-90)" text-anchor="end" font-family="Liberation Sans, sans-serif" font-size="5.4" font-weight="bold" letter-spacing="0.6" fill="#000">aminocaproic acid</text>
<text transform="translate(536.60,392.8) rotate(-90)" text-anchor="end" font-family="Liberation Sans, sans-serif" font-size="5.4" font-weight="bold" letter-spacing="0.6" fill="#000">4-Pyridoxate</text>
<text transform="translate(543.31,392.8) rotate(-90)" text-anchor="end" font-family="Liberation Sans, sans-serif" font-size="5.4" font-weight="bold" letter-spacing="0.6" fill="#000">Valine/betaine</text>
<text transform="translate(550.02,392.8) rotate(-90)" text-anchor="end" font-family="Liberation Sans, sans-serif" font-size="5.4" font-weight="bold" letter-spacing="0.6" fill="#000">Serine</text>
<text transform="translate(556.73,392.8) rotate(-90)" text-anchor="end" font-family="Liberation Sans, sans-serif" font-size="5.4" font-weight="bold" letter-spacing="0.6" fill="#000">Glutamate</text>
<text transform="translate(563.44,392.8) rotate(-90)" text-anchor="end" font-family="Liberation Sans, sans-serif" font-size="5.4" font-weight="bold" letter-spacing="0.6" fill="#000">Acetyllysine</text>
<text transform="translate(570.15,392.8) rotate(-90)" text-anchor="end" font-family="Liberation Sans, sans-serif" font-size="5.4" font-weight="bold" letter-spacing="0.6" fill="#000">Taurine</text>
<text transform="translate(578.20,392.8) rotate(-90)" text-anchor="end" font-family="Liberation Sans, sans-serif" font-size="5.4" font-weight="bold" letter-spacing="0.6" fill="#000">Citrate/Isocitrate</text>
<text transform="translate(584.94,392.8) rotate(-90)" text-anchor="end" font-family="Liberation Sans, sans-serif" font-size="5.4" font-weight="bold" letter-spacing="0.6" fill="#000">Guanidoacetic acid</text>
<text transform="translate(591.68,392.8) rotate(-90)" text-anchor="end" font-family="Liberation Sans, sans-serif" font-size="5.4" font-weight="bold" letter-spacing="0.6" fill="#000">Uracil</text>
<text transform="translate(598.42,392.8) rotate(-90)" text-anchor="end" font-family="Liberation Sans, sans-serif" font-size="5.4" font-weight="bold" letter-spacing="0.6" fill="#000">Uridine</text>
<text transform="translate(605.16,392.8) rotate(-90)" text-anchor="end" font-family="Liberation Sans, sans-serif" font-size="5.4" font-weight="bold" letter-spacing="0.6" fill="#000">myo-Inositol</text>
<text transform="translate(611.90,392.8) rotate(-90)" text-anchor="end" font-family="Liberation Sans, sans-serif" font-size="5.4" font-weight="bold" letter-spacing="0.6" fill="#000">Ophthalmate</text>
<text transform="translate(618.64,392.8) rotate(-90)" text-anchor="end" font-family="Liberation Sans, sans-serif" font-size="5.4" font-weight="bold" letter-spacing="0.6" fill="#000">Pantothenate</text>
<text transform="translate(625.38,392.8) rotate(-90)" text-anchor="end" font-family="Liberation Sans, sans-serif" font-size="5.4" font-weight="bold" letter-spacing="0.6" fill="#000">1-Methyladenosine</text>
<text transform="translate(632.12,392.8) rotate(-90)" text-anchor="end" font-family="Liberation Sans, sans-serif" font-size="5.4" font-weight="bold" letter-spacing="0.6" fill="#000">Homoserine/Threonine</text>
<text transform="translate(638.86,392.8) rotate(-90)" text-anchor="end" font-family="Liberation Sans, sans-serif" font-size="5.4" font-weight="bold" letter-spacing="0.6" fill="#000">Asparagine</text>
<text transform="translate(645.60,392.8) rotate(-90)" text-anchor="end" font-family="Liberation Sans, sans-serif" font-size="5.4" font-weight="bold" letter-spacing="0.6" fill="#000">5-Hydroxyindoleacetic acid (5-HIAA)</text>
<text transform="translate(652.34,392.8) rotate(-90)" text-anchor="end" font-family="Liberation Sans, sans-serif" font-size="5.4" font-weight="bold" letter-spacing="0.6" fill="#000">Alanine/Sarcosine</text>
<text transform="translate(659.08,392.8) rotate(-90)" text-anchor="end" font-family="Liberation Sans, sans-serif" font-size="5.4" font-weight="bold" letter-spacing="0.6" fill="#000">Glycodeoxycholate</text>
<text transform="translate(665.82,392.8) rotate(-90)" text-anchor="end" font-family="Liberation Sans, sans-serif" font-size="5.4" font-weight="bold" letter-spacing="0.6" fill="#000">Histidine</text>
<text transform="translate(672.56,392.8) rotate(-90)" text-anchor="end" font-family="Liberation Sans, sans-serif" font-size="5.4" font-weight="bold" letter-spacing="0.6" fill="#000">Aspartate</text>
<line x1="251.2" y1="252" x2="251.2" y2="389.9" stroke="#000" stroke-width="1.3"/>
<line x1="250.7" y1="389.4" x2="676.6" y2="389.4" stroke="#111" stroke-width="1"/>
<line x1="251.2" y1="343.7" x2="673.5" y2="343.7" stroke="#000" stroke-width="1"/>
<line x1="248.79999999999998" y1="389.40" x2="251.2" y2="389.40" stroke="#222" stroke-width="0.8"/>
<text x="247.79999999999998" y="392.2" text-anchor="end" font-family="Liberation Sans, sans-serif" font-size="5.5" font-weight="bold" letter-spacing="0.6" fill="#000" stroke="#000" stroke-width="0.15">0</text>
<line x1="249.79999999999998" y1="366.55" x2="251.2" y2="366.55" stroke="#222" stroke-width="0.8"/>
<line x1="248.79999999999998" y1="343.70" x2="251.2" y2="343.70" stroke="#222" stroke-width="0.8"/>
<text x="247.79999999999998" y="346.6" text-anchor="end" font-family="Liberation Sans, sans-serif" font-size="5.5" font-weight="bold" letter-spacing="0.6" fill="#000" stroke="#000" stroke-width="0.15">1</text>
<line x1="249.79999999999998" y1="320.85" x2="251.2" y2="320.85" stroke="#222" stroke-width="0.8"/>
<line x1="248.79999999999998" y1="298.00" x2="251.2" y2="298.00" stroke="#222" stroke-width="0.8"/>
<text x="247.79999999999998" y="300.9" text-anchor="end" font-family="Liberation Sans, sans-serif" font-size="5.5" font-weight="bold" letter-spacing="0.6" fill="#000" stroke="#000" stroke-width="0.15">2</text>
<line x1="249.79999999999998" y1="275.15" x2="251.2" y2="275.15" stroke="#222" stroke-width="0.8"/>
<line x1="248.79999999999998" y1="252.30" x2="251.2" y2="252.30" stroke="#222" stroke-width="0.8"/>
<text x="247.79999999999998" y="255.1" text-anchor="end" font-family="Liberation Sans, sans-serif" font-size="5.5" font-weight="bold" letter-spacing="0.6" fill="#000" stroke="#000" stroke-width="0.15">3</text>
<text transform="translate(240.6,320.6) rotate(-90)" text-anchor="middle" font-family="Liberation Sans, sans-serif" font-size="7.0" font-weight="bold" letter-spacing="0.62" fill="#000" stroke="#000" stroke-width="0.15">VIP Score</text>
<text x="302.8" y="277.1" text-anchor="middle" font-family="Liberation Sans, sans-serif" font-size="5.9" font-weight="bold" letter-spacing="0.8" fill="#000" stroke="#000" stroke-width="0.2">VIP 1</text>
<text x="412.9" y="277.1" text-anchor="middle" font-family="Liberation Sans, sans-serif" font-size="5.9" font-weight="bold" letter-spacing="0.8" fill="#000" stroke="#000" stroke-width="0.2">VIP 2</text>
<text x="525.4" y="277.1" text-anchor="middle" font-family="Liberation Sans, sans-serif" font-size="5.9" font-weight="bold" letter-spacing="0.8" fill="#000" stroke="#000" stroke-width="0.2">VIP 3</text>
<text x="620.8" y="277.1" text-anchor="middle" font-family="Liberation Sans, sans-serif" font-size="5.9" font-weight="bold" letter-spacing="0.8" fill="#000" stroke="#000" stroke-width="0.2">VIP 4</text>
</svg>
</body></html>
